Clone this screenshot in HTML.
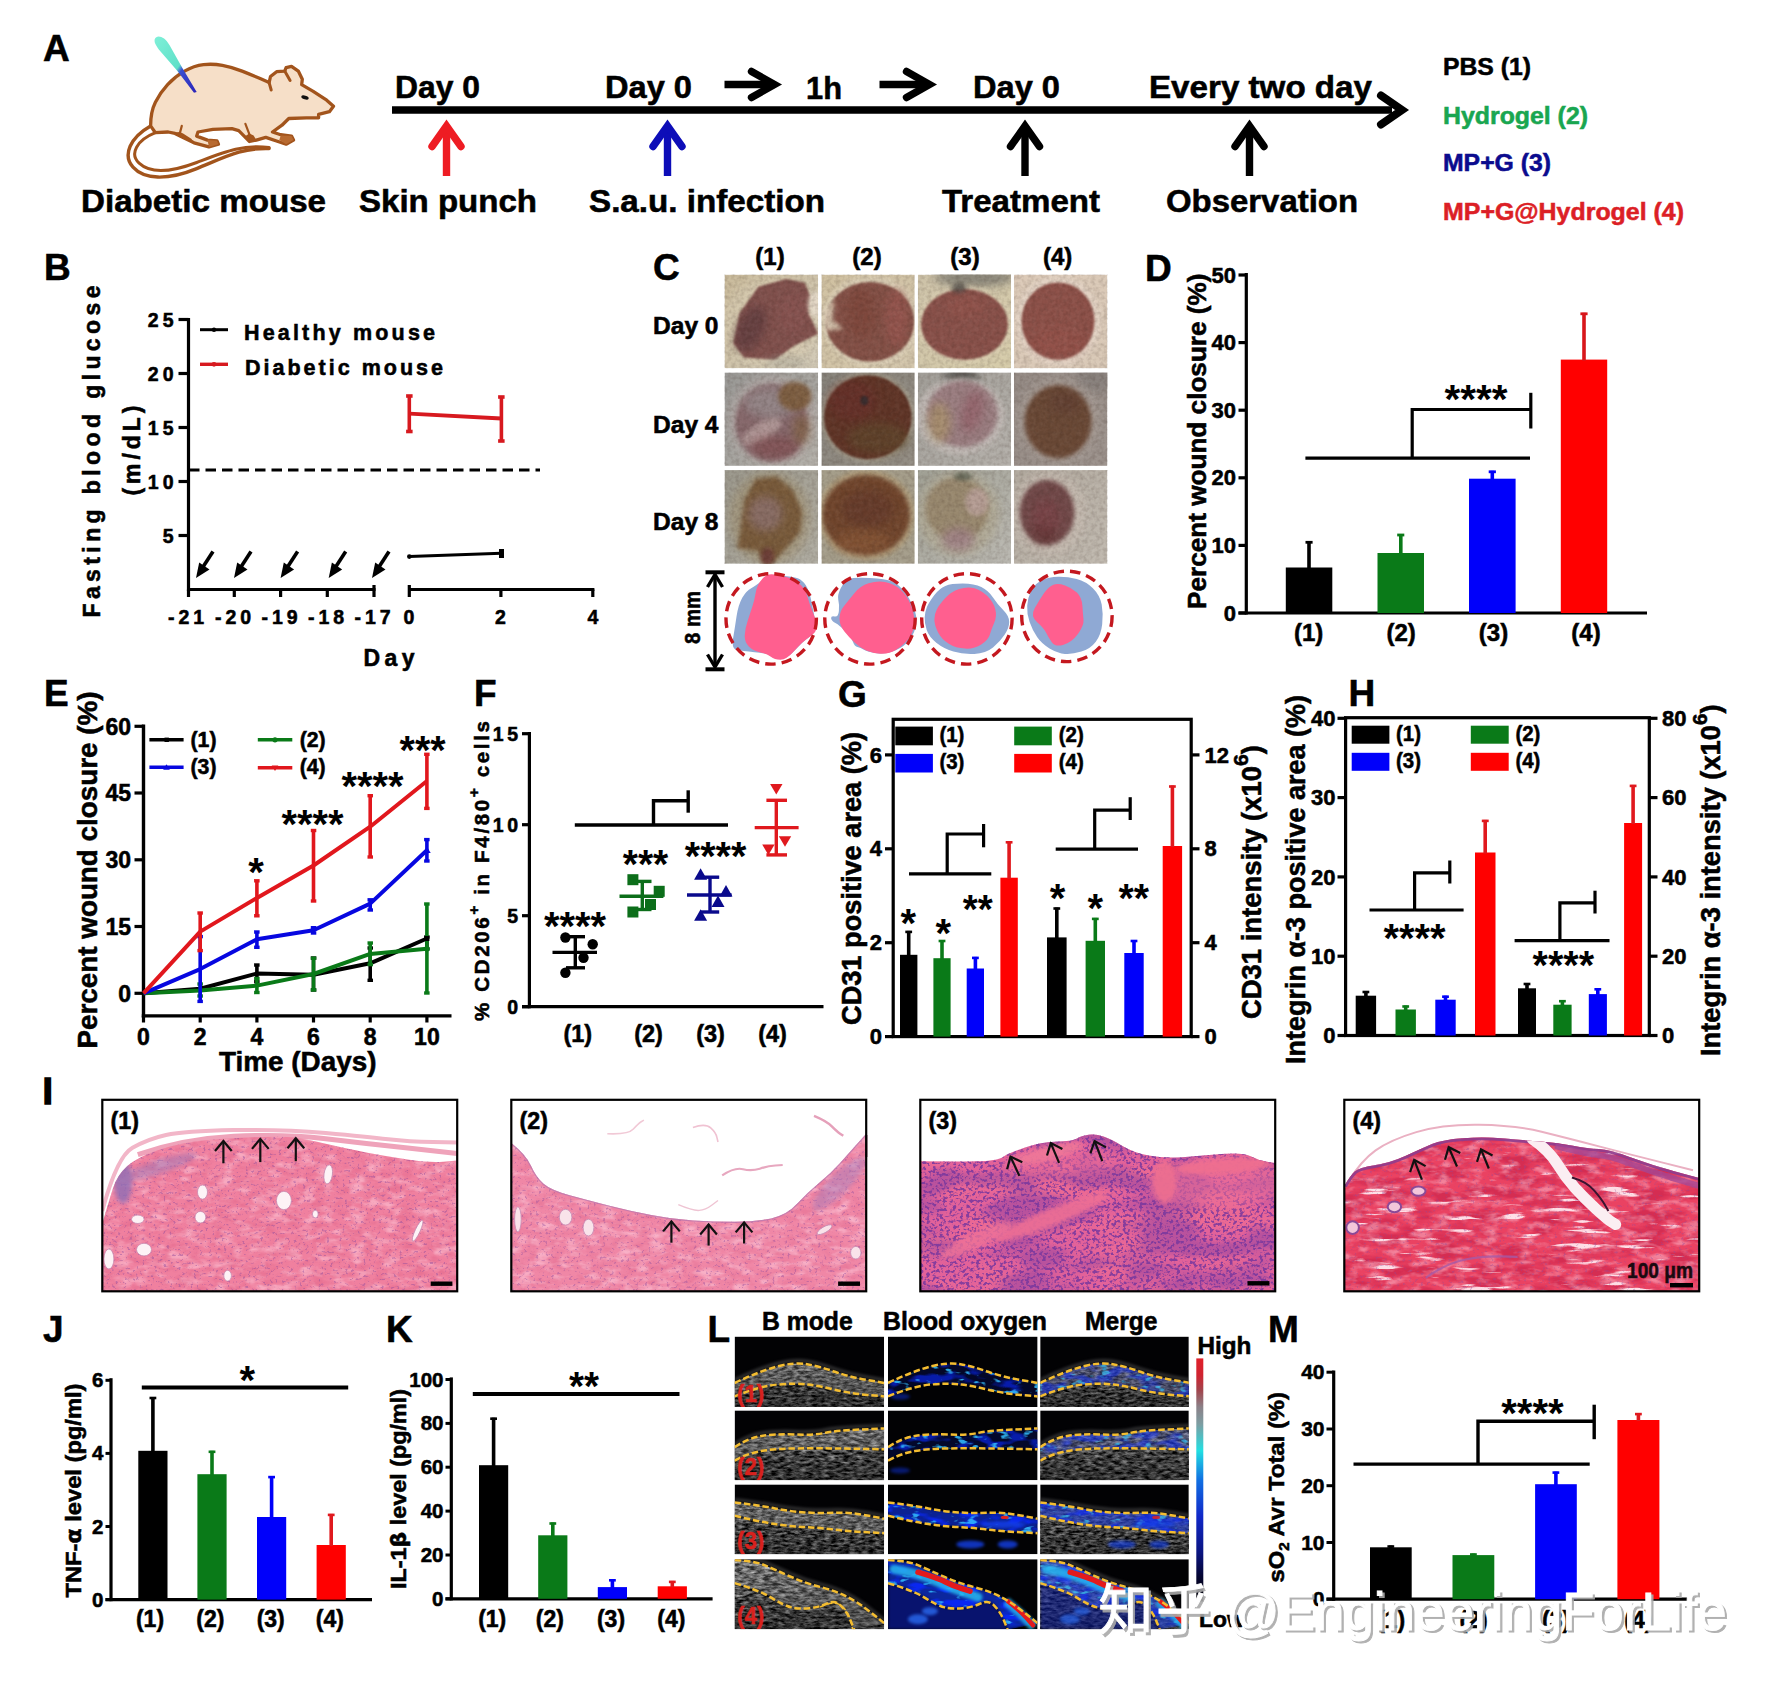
<!DOCTYPE html>
<html><head><meta charset="utf-8"><title>Figure</title>
<style>html,body{margin:0;padding:0;background:#fff}svg{display:block}svg{font-family:"Liberation Sans","Noto Sans CJK SC",sans-serif;font-weight:bold}</style></head>
<body>
<svg width="1772" height="1693" viewBox="0 0 1772 1693">
<!-- Panel A -->
<text x="43.0" y="61.0" font-size="37" stroke="#000" stroke-width="0.55">A</text>
<defs><linearGradient id="syr" x1="0" y1="0" x2="1" y2="1"><stop offset="0" stop-color="#7ff0d8"/><stop offset="0.55" stop-color="#5fe0c8"/><stop offset="0.62" stop-color="#3a4fd0"/><stop offset="1" stop-color="#2a22b8"/></linearGradient></defs>
<path d="M150.6 125.9 C130.3 137.4 122.2 155.0 133.0 167.2 S166.9 180.8 196.7 168.6 S242.7 147.6 269.1 148.5" fill="none" stroke="#a2541c" stroke-width="3.4" stroke-linecap="round"/>
<path d="M155.4 132.7 C137.1 140.1 129.0 153.7 139.1 163.2 S168.2 173.3 196.7 162.5 S242.7 144.2 269.1 147.6" fill="none" stroke="#a2541c" stroke-width="3" stroke-linecap="round"/>
<path d="M150.6 125.9 Q150.6 111.7 155.4 102.2 Q160.1 92.7 167.6 84.6 Q175.0 76.5 184.5 71.1 Q194.0 65.6 203.5 64.6 Q212.9 63.6 222.4 65.3 Q231.9 67.0 242.1 71.1 Q252.2 75.1 260.7 78.8 L269.1 82.6 270.5 76.5 276.6 71.7 284.7 71.1 286.1 67.7 291.5 66.3 298.3 71.1 302.3 79.2 301.7 84.6 313.2 91.4 326.7 100.2 333.5 106.3 329.4 111.7 318.6 114.4 318.6 117.8 306.4 117.8 288.8 118.5 282.0 125.2 272.5 132.0 280.7 134.7 291.5 136.1 293.5 140.1 286.1 144.2 278.0 141.5 265.8 137.4 256.3 140.1 249.5 141.5 245.4 137.4 238.7 130.6 231.9 128.6 212.9 129.3 198.0 132.0 196.7 136.1 207.5 140.1 217.0 140.8 218.4 144.2 208.9 146.9 194.0 142.8 183.1 137.4 175.0 133.4 168.2 132.0 155.4 132.7 Z" fill="#f6dfc8" stroke="#a2541c" stroke-width="3.3" stroke-linejoin="round"/>
<path d="M284.7 71.1 L290.1 80.5" fill="none" stroke="#a2541c" stroke-width="3" stroke-linecap="round"/>
<path d="M269.1 82.6 L271.2 90.0" fill="none" stroke="#a2541c" stroke-width="3" stroke-linecap="round"/>
<path d="M181.8 125.9 L179.8 133.4 175.0 133.4" fill="none" stroke="#a2541c" stroke-width="2.2" stroke-linecap="round" stroke-linejoin="round"/>
<path d="M245.4 123.9 L249.5 134.7 245.4 137.4" fill="none" stroke="#a2541c" stroke-width="2.2" stroke-linecap="round" stroke-linejoin="round"/>
<path d="M175.0 133.4 L183.1 137.4 194.0 142.8 191.3 138.8 183.1 133.4 179.8 132.0Z" fill="#a2541c" />
<path d="M245.4 137.4 L249.5 141.5 256.3 140.1 253.6 135.4 249.5 133.4Z" fill="#a2541c" />
<path d="M207.5 140.1 L217.0 140.8 218.4 144.2 208.9 146.9Z" fill="#b86a30" />
<path d="M280.7 135.4 L291.5 136.1 293.5 140.1 286.1 144.2 279.3 140.1Z" fill="#b86a30" />
<ellipse cx="305.0" cy="97.5" rx="3.8" ry="1.9" fill="#111" transform="rotate(14 305.0 97.5)"/>
<path d="M154.7 39.2 C156.7 34.5 164.2 35.8 169.6 45.3 L182.5 68.3 196.7 92.0 194.0 92.7 177.0 70.4 L158.8 49.4 C156.1 45.3 154.0 42.6 154.7 39.2Z" fill="url(#syr)" />
<line x1="392.0" y1="110.0" x2="1392.0" y2="110.0" stroke="#000" stroke-width="7.4" />
<path d="M1381 95.5 L1402 110 L1381 124.5" fill="none" stroke="#000" stroke-width="8" stroke-linejoin="miter" stroke-linecap="round"/>
<line x1="724.5" y1="84.5" x2="770.5" y2="84.5" stroke="#000" stroke-width="7.4" />
<path d="M751.5 71.5 L774.5 84.5 L751.5 97.5" fill="none" stroke="#000" stroke-width="7.4" stroke-linecap="round" stroke-linejoin="miter"/>
<line x1="879.5" y1="84.5" x2="925.5" y2="84.5" stroke="#000" stroke-width="7.4" />
<path d="M906.5 71.5 L929.5 84.5 L906.5 97.5" fill="none" stroke="#000" stroke-width="7.4" stroke-linecap="round" stroke-linejoin="miter"/>
<line x1="446.5" y1="127.5" x2="446.5" y2="176.0" stroke="#ee1c23" stroke-width="7.4" />
<path d="M432.0 146.5 L446.5 126.0 L461.0 146.5" fill="none" stroke="#ee1c23" stroke-width="7.4" stroke-linecap="round" stroke-linejoin="miter"/>
<line x1="667.5" y1="127.5" x2="667.5" y2="176.0" stroke="#0d0db8" stroke-width="7.4" />
<path d="M653.0 146.5 L667.5 126.0 L682.0 146.5" fill="none" stroke="#0d0db8" stroke-width="7.4" stroke-linecap="round" stroke-linejoin="miter"/>
<line x1="1025.0" y1="127.5" x2="1025.0" y2="176.0" stroke="#000" stroke-width="7.4" />
<path d="M1010.5 146.5 L1025 126.0 L1039.5 146.5" fill="none" stroke="#000" stroke-width="7.4" stroke-linecap="round" stroke-linejoin="miter"/>
<line x1="1249.5" y1="127.5" x2="1249.5" y2="176.0" stroke="#000" stroke-width="7.4" />
<path d="M1235.0 146.5 L1249.5 126.0 L1264.0 146.5" fill="none" stroke="#000" stroke-width="7.4" stroke-linecap="round" stroke-linejoin="miter"/>
<text x="395.0" y="97.6" font-size="31" textLength="85.0" lengthAdjust="spacingAndGlyphs" stroke="#000" stroke-width="0.55">Day 0</text>
<text x="605.0" y="97.6" font-size="31" textLength="87.0" lengthAdjust="spacingAndGlyphs" stroke="#000" stroke-width="0.55">Day 0</text>
<text x="806.0" y="99.0" font-size="31" textLength="36.0" lengthAdjust="spacingAndGlyphs" stroke="#000" stroke-width="0.55">1h</text>
<text x="973.0" y="97.6" font-size="31" textLength="87.0" lengthAdjust="spacingAndGlyphs" stroke="#000" stroke-width="0.55">Day 0</text>
<text x="1149.0" y="97.6" font-size="31" textLength="223.0" lengthAdjust="spacingAndGlyphs" stroke="#000" stroke-width="0.55">Every two day</text>
<text x="81.0" y="212.0" font-size="31" textLength="245.0" lengthAdjust="spacingAndGlyphs" stroke="#000" stroke-width="0.55">Diabetic mouse</text>
<text x="359.0" y="212.0" font-size="31" textLength="178.0" lengthAdjust="spacingAndGlyphs" stroke="#000" stroke-width="0.55">Skin punch</text>
<text x="589.0" y="212.0" font-size="31" textLength="236.0" lengthAdjust="spacingAndGlyphs" stroke="#000" stroke-width="0.55">S.a.u. infection</text>
<text x="942.0" y="212.0" font-size="31" textLength="158.0" lengthAdjust="spacingAndGlyphs" stroke="#000" stroke-width="0.55">Treatment</text>
<text x="1166.0" y="212.0" font-size="31" textLength="192.0" lengthAdjust="spacingAndGlyphs" stroke="#000" stroke-width="0.55">Observation</text>
<text x="1443.0" y="75.0" font-size="24" textLength="88.0" lengthAdjust="spacingAndGlyphs" stroke="#000" stroke-width="0.55">PBS (1)</text>
<text x="1443.0" y="124.0" font-size="24" fill="#19a650" textLength="145.0" lengthAdjust="spacingAndGlyphs" stroke="#19a650" stroke-width="0.55">Hydrogel (2)</text>
<text x="1443.0" y="171.0" font-size="24" fill="#0b0b8e" textLength="108.0" lengthAdjust="spacingAndGlyphs" stroke="#0b0b8e" stroke-width="0.55">MP+G (3)</text>
<text x="1443.0" y="220.0" font-size="24" fill="#dc1f26" textLength="241.0" lengthAdjust="spacingAndGlyphs" stroke="#dc1f26" stroke-width="0.55">MP+G@Hydrogel (4)</text>
<!-- Panel B -->
<text x="44.0" y="280.0" font-size="37" stroke="#000" stroke-width="0.55">B</text>
<line x1="188.5" y1="318.0" x2="188.5" y2="591.0" stroke="#000" stroke-width="3.2" />
<line x1="178.5" y1="535.5" x2="188.5" y2="535.5" stroke="#000" stroke-width="3.2" />
<text x="177.5" y="542.5" font-size="19.5" text-anchor="end" letter-spacing="4" stroke="#000" stroke-width="0.55">5</text>
<line x1="178.5" y1="481.5" x2="188.5" y2="481.5" stroke="#000" stroke-width="3.2" />
<text x="177.5" y="488.5" font-size="19.5" text-anchor="end" letter-spacing="4" stroke="#000" stroke-width="0.55">10</text>
<line x1="178.5" y1="427.5" x2="188.5" y2="427.5" stroke="#000" stroke-width="3.2" />
<text x="177.5" y="434.5" font-size="19.5" text-anchor="end" letter-spacing="4" stroke="#000" stroke-width="0.55">15</text>
<line x1="178.5" y1="373.5" x2="188.5" y2="373.5" stroke="#000" stroke-width="3.2" />
<text x="177.5" y="380.5" font-size="19.5" text-anchor="end" letter-spacing="4" stroke="#000" stroke-width="0.55">20</text>
<line x1="178.5" y1="319.5" x2="188.5" y2="319.5" stroke="#000" stroke-width="3.2" />
<text x="177.5" y="326.5" font-size="19.5" text-anchor="end" letter-spacing="4" stroke="#000" stroke-width="0.55">25</text>
<line x1="187.0" y1="589.5" x2="375.5" y2="589.5" stroke="#000" stroke-width="3.2" />
<line x1="188.5" y1="589.5" x2="188.5" y2="597.0" stroke="#000" stroke-width="3.2" />
<line x1="234.3" y1="589.5" x2="234.3" y2="597.0" stroke="#000" stroke-width="3.2" />
<line x1="280.6" y1="589.5" x2="280.6" y2="597.0" stroke="#000" stroke-width="3.2" />
<line x1="327.3" y1="589.5" x2="327.3" y2="597.0" stroke="#000" stroke-width="3.2" />
<line x1="374.0" y1="585.0" x2="374.0" y2="597.0" stroke="#000" stroke-width="3.2" />
<line x1="409.3" y1="589.5" x2="594.4" y2="589.5" stroke="#000" stroke-width="3.2" />
<line x1="409.3" y1="585.0" x2="409.3" y2="597.0" stroke="#000" stroke-width="3.2" />
<line x1="500.9" y1="589.5" x2="500.9" y2="597.0" stroke="#000" stroke-width="3.2" />
<line x1="592.8" y1="589.5" x2="592.8" y2="597.0" stroke="#000" stroke-width="3.2" />
<text x="188.0" y="623.5" font-size="19.5" text-anchor="middle" letter-spacing="4" stroke="#000" stroke-width="0.55">-21</text>
<text x="235.0" y="623.5" font-size="19.5" text-anchor="middle" letter-spacing="4" stroke="#000" stroke-width="0.55">-20</text>
<text x="281.5" y="623.5" font-size="19.5" text-anchor="middle" letter-spacing="4" stroke="#000" stroke-width="0.55">-19</text>
<text x="328.0" y="623.5" font-size="19.5" text-anchor="middle" letter-spacing="4" stroke="#000" stroke-width="0.55">-18</text>
<text x="374.5" y="623.5" font-size="19.5" text-anchor="middle" letter-spacing="4" stroke="#000" stroke-width="0.55">-17</text>
<text x="409.0" y="623.5" font-size="19.5" text-anchor="middle" stroke="#000" stroke-width="0.55">0</text>
<text x="500.5" y="623.5" font-size="19.5" text-anchor="middle" stroke="#000" stroke-width="0.55">2</text>
<text x="593.0" y="623.5" font-size="19.5" text-anchor="middle" stroke="#000" stroke-width="0.55">4</text>
<text x="363.5" y="666.0" font-size="23" textLength="51.0" lengthAdjust="spacing" stroke="#000" stroke-width="0.55">Day</text>
<text x="100.0" y="617.5" font-size="23" textLength="332.0" lengthAdjust="spacing" transform="rotate(-90 100.0 617.5)" stroke="#000" stroke-width="0.55">Fasting blood glucose</text>
<text x="139.5" y="495.5" font-size="23" textLength="90.0" lengthAdjust="spacing" transform="rotate(-90 139.5 495.5)" stroke="#000" stroke-width="0.55">(m/dL)</text>
<line x1="200.0" y1="329.7" x2="228.0" y2="329.7" stroke="#000" stroke-width="3" />
<circle cx="214.0" cy="329.7" r="2.2" fill="#000" />
<text x="244.0" y="340.0" font-size="21.5" textLength="191.0" lengthAdjust="spacing" stroke="#000" stroke-width="0.55">Healthy mouse</text>
<line x1="200.0" y1="364.3" x2="228.0" y2="364.3" stroke="#d7191f" stroke-width="3.4" />
<circle cx="214.0" cy="364.3" r="2.4" fill="#d7191f" />
<text x="245.0" y="374.5" font-size="21.5" textLength="198.0" lengthAdjust="spacing" stroke="#000" stroke-width="0.55">Diabetic mouse</text>
<line x1="409.3" y1="413.7" x2="501.4" y2="418.5" stroke="#d7191f" stroke-width="3.8" />
<line x1="409.3" y1="396.0" x2="409.3" y2="431.5" stroke="#d7191f" stroke-width="3.6" />
<line x1="406.1" y1="396.0" x2="412.6" y2="396.0" stroke="#d7191f" stroke-width="3.6" />
<line x1="406.1" y1="431.5" x2="412.6" y2="431.5" stroke="#d7191f" stroke-width="3.6" />
<line x1="501.4" y1="397.0" x2="501.4" y2="441.0" stroke="#d7191f" stroke-width="3.6" />
<line x1="498.1" y1="397.0" x2="504.6" y2="397.0" stroke="#d7191f" stroke-width="3.6" />
<line x1="498.1" y1="441.0" x2="504.6" y2="441.0" stroke="#d7191f" stroke-width="3.6" />
<line x1="189.0" y1="470.0" x2="540.0" y2="470.0" stroke="#000" stroke-width="3" stroke-dasharray="10.5 6"/>
<line x1="409.3" y1="556.6" x2="501.4" y2="553.3" stroke="#000" stroke-width="3" />
<circle cx="409.3" cy="556.6" r="2.3" fill="#000" />
<rect x="499.0" y="549.0" width="5.0" height="9.0" fill="#000" />
<line x1="201.0" y1="570.0" x2="213.0" y2="551.5" stroke="#000" stroke-width="3.6" />
<path d="M196.0 578.0 L199.2 562.5 L209.5 569.5 Z" fill="#000" />
<line x1="239.0" y1="570.0" x2="251.0" y2="551.5" stroke="#000" stroke-width="3.6" />
<path d="M234.0 578.0 L237.2 562.5 L247.5 569.5 Z" fill="#000" />
<line x1="285.6" y1="570.0" x2="297.6" y2="551.5" stroke="#000" stroke-width="3.6" />
<path d="M280.6 578.0 L283.8 562.5 L294.1 569.5 Z" fill="#000" />
<line x1="333.7" y1="570.0" x2="345.7" y2="551.5" stroke="#000" stroke-width="3.6" />
<path d="M328.7 578.0 L331.9 562.5 L342.2 569.5 Z" fill="#000" />
<line x1="377.0" y1="570.0" x2="389.0" y2="551.5" stroke="#000" stroke-width="3.6" />
<path d="M372.0 578.0 L375.2 562.5 L385.5 569.5 Z" fill="#000" />
<!-- Panel C -->
<text x="653.0" y="280.0" font-size="37" stroke="#000" stroke-width="0.55">C</text>
<text x="770.0" y="264.6" font-size="24" text-anchor="middle" stroke="#000" stroke-width="0.55">(1)</text>
<text x="867.0" y="264.6" font-size="24" text-anchor="middle" stroke="#000" stroke-width="0.55">(2)</text>
<text x="965.0" y="264.6" font-size="24" text-anchor="middle" stroke="#000" stroke-width="0.55">(3)</text>
<text x="1057.6" y="264.6" font-size="24" text-anchor="middle" stroke="#000" stroke-width="0.55">(4)</text>
<text x="653.0" y="333.5" font-size="24" textLength="65.5" lengthAdjust="spacingAndGlyphs" stroke="#000" stroke-width="0.55">Day 0</text>
<text x="653.0" y="433.0" font-size="24" textLength="65.5" lengthAdjust="spacingAndGlyphs" stroke="#000" stroke-width="0.55">Day 4</text>
<text x="653.0" y="530.0" font-size="24" textLength="65.5" lengthAdjust="spacingAndGlyphs" stroke="#000" stroke-width="0.55">Day 8</text>
<defs><filter id="b1" color-interpolation-filters="sRGB" x="-20%" y="-20%" width="140%" height="140%"><feGaussianBlur stdDeviation="1.2"/></filter><filter id="b2" color-interpolation-filters="sRGB" x="-20%" y="-20%" width="140%" height="140%"><feGaussianBlur stdDeviation="2.2"/></filter><filter id="b4" color-interpolation-filters="sRGB" x="-30%" y="-30%" width="160%" height="160%"><feGaussianBlur stdDeviation="4.5"/></filter><filter id="nzC" color-interpolation-filters="sRGB" x="0" y="0" width="100%" height="100%"><feTurbulence type="fractalNoise" baseFrequency="0.22" numOctaves="3" seed="4" result="t"/><feColorMatrix type="matrix" values="0 0 0 0 1  0 0 0 0 1  0 0 0 0 1  1.6 0 0 0 -0.55"/></filter><filter id="nzCd" color-interpolation-filters="sRGB" x="0" y="0" width="100%" height="100%"><feTurbulence type="fractalNoise" baseFrequency="0.25" numOctaves="3" seed="9" result="t"/><feColorMatrix type="matrix" values="0 0 0 0 0.15  0 0 0 0 0.08  0 0 0 0 0.05  0 1.6 0 0 -0.6"/></filter></defs>
<defs><clipPath id="ct0"><rect x="724.5" y="274.6" width="93.6" height="93.8"/></clipPath><linearGradient id="cg0" x1="0" y1="0" x2="1" y2="1"><stop offset="0" stop-color="#c9ba9a"/><stop offset="1" stop-color="#d3cbb8"/></linearGradient></defs>
<g clip-path="url(#ct0)">
<rect x="724.5" y="274.6" width="93.6" height="93.8" fill="url(#cg0)" />
<ellipse cx="771.6" cy="322.2" rx="47.6" ry="44.2" fill="#d6cab0" opacity="0.7" filter="url(#b4)" transform="rotate(0 771.6 322.2)"/>
<path d="M733.3 343.2 L739.5 313.3 L758.3 286.8 L786.0 279.0 L804.8 282.8 L810.8 297.8 L808.6 313.3 L818.1 333.7 L793.7 346.1 L774.9 359.8 L744.0 357.6Z" fill="#80504c" opacity="1" filter="url(#b1)"/>
<ellipse cx="750.6" cy="328.8" rx="13.3" ry="24.3" fill="#5c3a3d" opacity="0.7" filter="url(#b4)" transform="rotate(25 750.6 328.8)"/>
<ellipse cx="792.6" cy="313.3" rx="13.3" ry="19.9" fill="#8a5452" opacity="0.6" filter="url(#b4)" transform="rotate(0 792.6 313.3)"/>
<ellipse cx="815.2" cy="304.5" rx="7.3" ry="12.8" fill="#e4d9c8" opacity="0.95" filter="url(#b2)" transform="rotate(0 815.2 304.5)"/>
<ellipse cx="786.0" cy="362.0" rx="19.9" ry="5.5" fill="#a09e92" opacity="0.5" filter="url(#b4)" transform="rotate(0 786.0 362.0)"/>
</g>
<defs><clipPath id="ct1"><rect x="821.3" y="274.6" width="93.6" height="93.8"/></clipPath><linearGradient id="cg1" x1="0" y1="0" x2="1" y2="1"><stop offset="0" stop-color="#cfc0a0"/><stop offset="1" stop-color="#d3c6ac"/></linearGradient></defs>
<g clip-path="url(#ct1)">
<rect x="821.3" y="274.6" width="93.6" height="93.8" fill="url(#cg1)" />
<ellipse cx="871.1" cy="321.1" rx="49.1" ry="45.4" fill="#dcd0b8" opacity="0.8" filter="url(#b2)" transform="rotate(0 871.1 321.1)"/>
<ellipse cx="870.0" cy="321.7" rx="44.2" ry="39.8" fill="#835046" opacity="1" filter="url(#b1)" transform="rotate(0 870.0 321.7)"/>
<path d="M822.4 308.9 L834.6 300.0 L832.4 320.0 L843.4 328.8 L825.7 331.0Z" fill="#d8c9b2" opacity="0.9" filter="url(#b2)"/>
<ellipse cx="896.5" cy="317.7" rx="11.1" ry="28.8" fill="#9a5650" opacity="0.7" filter="url(#b4)" transform="rotate(0 896.5 317.7)"/>
<ellipse cx="861.1" cy="313.3" rx="15.5" ry="24.3" fill="#7b4236" opacity="0.6" filter="url(#b4)" transform="rotate(0 861.1 313.3)"/>
</g>
<defs><clipPath id="ct2"><rect x="917.6" y="274.6" width="93.6" height="93.8"/></clipPath><linearGradient id="cg2" x1="0" y1="0" x2="1" y2="1"><stop offset="0" stop-color="#cdc2a8"/><stop offset="1" stop-color="#d6ccaa"/></linearGradient></defs>
<g clip-path="url(#ct2)">
<rect x="917.6" y="274.6" width="93.6" height="93.8" fill="url(#cg2)" />
<ellipse cx="974.5" cy="277.9" rx="39.8" ry="8.8" fill="#7d7a70" opacity="0.85" filter="url(#b4)" transform="rotate(0 974.5 277.9)"/>
<ellipse cx="964.5" cy="324.4" rx="47.6" ry="38.7" fill="#dccfb4" opacity="0.6" filter="url(#b2)" transform="rotate(0 964.5 324.4)"/>
<ellipse cx="964.5" cy="324.4" rx="43.4" ry="35.4" fill="#885049" opacity="1" filter="url(#b1)" transform="rotate(0 964.5 324.4)"/>
<ellipse cx="959.0" cy="287.9" rx="7.7" ry="5.5" fill="#403c3a" opacity="0.7" filter="url(#b2)" transform="rotate(0 959.0 287.9)"/>
<ellipse cx="965.6" cy="306.7" rx="17.7" ry="11.1" fill="#96544c" opacity="0.5" filter="url(#b4)" transform="rotate(0 965.6 306.7)"/>
</g>
<defs><clipPath id="ct3"><rect x="1013.8" y="274.6" width="93.6" height="93.8"/></clipPath><linearGradient id="cg3" x1="0" y1="0" x2="1" y2="1"><stop offset="0" stop-color="#dccab8"/><stop offset="1" stop-color="#d8c8b6"/></linearGradient></defs>
<g clip-path="url(#ct3)">
<rect x="1013.8" y="274.6" width="93.6" height="93.8" fill="url(#cg3)" />
<ellipse cx="1058.0" cy="321.1" rx="43.1" ry="45.4" fill="#e4d4c6" opacity="0.8" filter="url(#b2)" transform="rotate(0 1058.0 321.1)"/>
<ellipse cx="1058.0" cy="321.1" rx="36.5" ry="38.7" fill="#8c5048" opacity="1" filter="url(#b1)" transform="rotate(0 1058.0 321.1)"/>
<ellipse cx="1058.0" cy="342.1" rx="26.5" ry="13.3" fill="#98524a" opacity="0.5" filter="url(#b4)" transform="rotate(0 1058.0 342.1)"/>
</g>
<defs><clipPath id="ct4"><rect x="724.5" y="372.3" width="93.6" height="93.8"/></clipPath><linearGradient id="cg4" x1="0" y1="0" x2="1" y2="1"><stop offset="0" stop-color="#979693"/><stop offset="1" stop-color="#b4b1aa"/></linearGradient></defs>
<g clip-path="url(#ct4)">
<rect x="724.5" y="372.3" width="93.6" height="93.8" fill="url(#cg4)" />
<ellipse cx="772.7" cy="420.5" rx="44.2" ry="44.2" fill="#b4a8a6" opacity="0.7" filter="url(#b4)" transform="rotate(0 772.7 420.5)"/>
<ellipse cx="771.6" cy="422.7" rx="36.5" ry="38.7" fill="#85676a" opacity="1" filter="url(#b2)" transform="rotate(0 771.6 422.7)"/>
<ellipse cx="770.5" cy="402.8" rx="26.5" ry="15.5" fill="#968a8c" opacity="0.8" filter="url(#b4)" transform="rotate(0 770.5 402.8)"/>
<ellipse cx="794.9" cy="396.2" rx="16.6" ry="14.4" fill="#7c5c3e" opacity="0.95" filter="url(#b2)" transform="rotate(0 794.9 396.2)"/>
<ellipse cx="761.7" cy="431.6" rx="22.1" ry="8.8" fill="#dcc8c4" opacity="0.45" filter="url(#b2)" transform="rotate(-30 761.7 431.6)"/>
<ellipse cx="774.9" cy="447.1" rx="24.3" ry="11.1" fill="#80474a" opacity="0.55" filter="url(#b4)" transform="rotate(0 774.9 447.1)"/>
<ellipse cx="801.5" cy="429.4" rx="8.8" ry="15.5" fill="#80603c" opacity="0.6" filter="url(#b4)" transform="rotate(0 801.5 429.4)"/>
</g>
<defs><clipPath id="ct5"><rect x="821.3" y="372.3" width="93.6" height="93.8"/></clipPath><linearGradient id="cg5" x1="0" y1="0" x2="1" y2="1"><stop offset="0" stop-color="#86827a"/><stop offset="1" stop-color="#938d83"/></linearGradient></defs>
<g clip-path="url(#ct5)">
<rect x="821.3" y="372.3" width="93.6" height="93.8" fill="url(#cg5)" />
<ellipse cx="867.8" cy="417.2" rx="47.6" ry="45.4" fill="#a89e8a" opacity="0.6" filter="url(#b2)" transform="rotate(0 867.8 417.2)"/>
<ellipse cx="867.8" cy="417.2" rx="43.8" ry="42.0" fill="#5f3426" opacity="1" filter="url(#b1)" transform="rotate(0 867.8 417.2)"/>
<ellipse cx="852.3" cy="400.6" rx="24.3" ry="19.9" fill="#6a2c2a" opacity="0.5" filter="url(#b4)" transform="rotate(0 852.3 400.6)"/>
<ellipse cx="878.8" cy="438.2" rx="31.0" ry="15.5" fill="#5e4a2c" opacity="0.6" filter="url(#b4)" transform="rotate(0 878.8 438.2)"/>
<ellipse cx="864.4" cy="400.6" rx="4.0" ry="4.9" fill="#2e2a2e" opacity="0.8" filter="url(#b1)" transform="rotate(0 864.4 400.6)"/>
</g>
<defs><clipPath id="ct6"><rect x="917.6" y="372.3" width="93.6" height="93.8"/></clipPath><linearGradient id="cg6" x1="0" y1="0" x2="1" y2="1"><stop offset="0" stop-color="#a09d97"/><stop offset="1" stop-color="#b4b0aa"/></linearGradient></defs>
<g clip-path="url(#ct6)">
<rect x="917.6" y="372.3" width="93.6" height="93.8" fill="url(#cg6)" />
<ellipse cx="961.2" cy="377.4" rx="17.7" ry="7.1" fill="#45433f" opacity="0.9" filter="url(#b4)" transform="rotate(0 961.2 377.4)"/>
<ellipse cx="960.1" cy="416.1" rx="44.2" ry="38.7" fill="#c4bcb8" opacity="0.8" filter="url(#b2)" transform="rotate(0 960.1 416.1)"/>
<ellipse cx="962.3" cy="413.9" rx="35.4" ry="33.2" fill="#9a7d80" opacity="1" filter="url(#b2)" transform="rotate(0 962.3 413.9)"/>
<ellipse cx="972.2" cy="411.7" rx="10.0" ry="21.0" fill="#8e505c" opacity="0.5" filter="url(#b4)" transform="rotate(15 972.2 411.7)"/>
<ellipse cx="939.1" cy="422.7" rx="11.1" ry="19.9" fill="#a8906a" opacity="0.8" filter="url(#b4)" transform="rotate(0 939.1 422.7)"/>
</g>
<defs><clipPath id="ct7"><rect x="1013.8" y="372.3" width="93.6" height="93.8"/></clipPath><linearGradient id="cg7" x1="0" y1="0" x2="1" y2="1"><stop offset="0" stop-color="#948a84"/><stop offset="1" stop-color="#9c928c"/></linearGradient></defs>
<g clip-path="url(#ct7)">
<rect x="1013.8" y="372.3" width="93.6" height="93.8" fill="url(#cg7)" />
<ellipse cx="1095.7" cy="378.5" rx="19.9" ry="13.3" fill="#857e7a" opacity="0.8" filter="url(#b4)" transform="rotate(0 1095.7 378.5)"/>
<ellipse cx="1058.0" cy="420.5" rx="40.9" ry="43.1" fill="#b0a49c" opacity="0.5" filter="url(#b4)" transform="rotate(0 1058.0 420.5)"/>
<ellipse cx="1058.0" cy="421.6" rx="33.6" ry="36.7" fill="#694835" opacity="1" filter="url(#b2)" transform="rotate(0 1058.0 421.6)"/>
<ellipse cx="1064.7" cy="402.8" rx="15.5" ry="11.1" fill="#5e3c30" opacity="0.6" filter="url(#b4)" transform="rotate(0 1064.7 402.8)"/>
</g>
<defs><clipPath id="ct8"><rect x="724.5" y="470.0" width="93.6" height="93.8"/></clipPath><linearGradient id="cg8" x1="0" y1="0" x2="1" y2="1"><stop offset="0" stop-color="#9a978b"/><stop offset="1" stop-color="#b0ada2"/></linearGradient></defs>
<g clip-path="url(#ct8)">
<rect x="724.5" y="470.0" width="93.6" height="93.8" fill="url(#cg8)" />
<ellipse cx="769.8" cy="518.4" rx="40.7" ry="46.5" fill="#a09070" opacity="0.6" filter="url(#b4)" transform="rotate(0 769.8 518.4)"/>
<path d="M739.6 534.6 L744.3 499.8 L755.9 478.8 L776.8 476.5 L793.1 490.5 L802.4 511.4 L800.1 532.3 L786.1 548.6 L772.2 563.7 L762.9 563.7 L758.2 550.9 L737.3 548.6Z" fill="#785a3a" opacity="1" filter="url(#b2)"/>
<ellipse cx="765.2" cy="513.7" rx="17.4" ry="17.4" fill="#8a6e68" opacity="0.9" filter="url(#b4)" transform="rotate(0 765.2 513.7)"/>
<ellipse cx="767.5" cy="556.7" rx="6.5" ry="9.3" fill="#6a3a36" opacity="0.9" filter="url(#b2)" transform="rotate(0 767.5 556.7)"/>
</g>
<defs><clipPath id="ct9"><rect x="821.3" y="470.0" width="93.6" height="93.8"/></clipPath><linearGradient id="cg9" x1="0" y1="0" x2="1" y2="1"><stop offset="0" stop-color="#a39c88"/><stop offset="1" stop-color="#a59e8b"/></linearGradient></defs>
<g clip-path="url(#ct9)">
<rect x="821.3" y="470.0" width="93.6" height="93.8" fill="url(#cg9)" />
<ellipse cx="866.2" cy="514.9" rx="48.8" ry="45.3" fill="#b39c76" opacity="0.7" filter="url(#b2)" transform="rotate(0 866.2 514.9)"/>
<ellipse cx="866.2" cy="514.9" rx="43.7" ry="40.0" fill="#70452c" opacity="1" filter="url(#b2)" transform="rotate(0 866.2 514.9)"/>
<ellipse cx="867.3" cy="509.1" rx="25.6" ry="18.6" fill="#62382a" opacity="0.7" filter="url(#b4)" transform="rotate(0 867.3 509.1)"/>
<ellipse cx="862.7" cy="541.6" rx="27.9" ry="11.6" fill="#8c5a38" opacity="0.6" filter="url(#b4)" transform="rotate(0 862.7 541.6)"/>
</g>
<defs><clipPath id="ct10"><rect x="917.6" y="470.0" width="93.6" height="93.8"/></clipPath><linearGradient id="cg10" x1="0" y1="0" x2="1" y2="1"><stop offset="0" stop-color="#9f9f93"/><stop offset="1" stop-color="#bab8b1"/></linearGradient></defs>
<g clip-path="url(#ct10)">
<rect x="917.6" y="470.0" width="93.6" height="93.8" fill="url(#cg10)" />
<ellipse cx="958.3" cy="513.7" rx="40.7" ry="41.9" fill="#b0a892" opacity="0.8" filter="url(#b4)" transform="rotate(0 958.3 513.7)"/>
<ellipse cx="957.1" cy="509.1" rx="31.4" ry="31.4" fill="#98886e" opacity="1" filter="url(#b2)" transform="rotate(0 957.1 509.1)"/>
<ellipse cx="976.9" cy="502.1" rx="11.6" ry="14.0" fill="#b8a098" opacity="0.9" filter="url(#b2)" transform="rotate(0 976.9 502.1)"/>
<ellipse cx="958.3" cy="539.3" rx="16.3" ry="11.6" fill="#9e8084" opacity="0.9" filter="url(#b4)" transform="rotate(0 958.3 539.3)"/>
<ellipse cx="962.9" cy="476.5" rx="9.3" ry="4.2" fill="#4c5244" opacity="0.7" filter="url(#b2)" transform="rotate(0 962.9 476.5)"/>
</g>
<defs><clipPath id="ct11"><rect x="1013.8" y="470.0" width="93.6" height="93.8"/></clipPath><linearGradient id="cg11" x1="0" y1="0" x2="1" y2="1"><stop offset="0" stop-color="#b0a89d"/><stop offset="1" stop-color="#c0b9af"/></linearGradient></defs>
<g clip-path="url(#ct11)">
<rect x="1013.8" y="470.0" width="93.6" height="93.8" fill="url(#cg11)" />
<ellipse cx="1048.2" cy="513.7" rx="37.2" ry="41.9" fill="#c8bcb2" opacity="0.7" filter="url(#b4)" transform="rotate(0 1048.2 513.7)"/>
<ellipse cx="1047.0" cy="512.5" rx="27.4" ry="32.6" fill="#704848" opacity="1" filter="url(#b2)" transform="rotate(0 1047.0 512.5)"/>
<ellipse cx="1045.9" cy="518.4" rx="14.0" ry="18.6" fill="#7c4046" opacity="0.6" filter="url(#b4)" transform="rotate(0 1045.9 518.4)"/>
<ellipse cx="1043.6" cy="534.6" rx="11.6" ry="9.3" fill="#5e3030" opacity="0.6" filter="url(#b4)" transform="rotate(0 1043.6 534.6)"/>
</g>
<rect x="724.5" y="274.6" width="383" height="289.4" filter="url(#nzC)" opacity="0.06"/>
<rect x="724.5" y="274.6" width="383" height="289.4" filter="url(#nzCd)" opacity="0.2"/>
<rect x="818.2" y="274.0" width="3.1" height="291.0" fill="#fff" />
<rect x="914.7" y="274.0" width="3.1" height="291.0" fill="#fff" />
<rect x="1011.1" y="274.0" width="2.8" height="291.0" fill="#fff" />
<rect x="724.0" y="368.5" width="384.0" height="3.9" fill="#fff" />
<rect x="724.0" y="465.8" width="384.0" height="4.3" fill="#fff" />
<path d="M751.2 588.2 Q755.8 585.9 762.8 580.1 Q769.8 574.3 781.4 575.4 Q793.0 576.6 797.7 578.3 Q802.3 580.1 805.8 585.3 Q809.3 590.6 811.6 602.2 Q813.9 613.8 815.7 622.5 Q817.4 631.2 809.9 636.5 Q802.3 641.7 795.3 649.8 Q788.4 658.0 781.4 658.6 Q774.4 659.1 770.9 656.2 Q767.4 653.3 754.6 652.2 Q741.9 651.0 736.6 649.8 Q731.4 648.7 733.1 638.2 Q734.9 627.8 736.6 616.1 Q738.4 604.5 742.4 597.5 Q746.5 590.6 751.2 588.2Z" fill="#8fa9d4" />
<path d="M755.8 592.3 Q757.0 584.7 762.2 578.9 Q767.4 573.1 774.4 574.6 Q781.4 576.1 787.2 577.3 Q793.0 578.5 799.0 583.3 Q805.1 588.2 807.4 596.4 Q809.7 604.5 812.6 611.5 Q815.6 618.5 816.7 624.8 Q817.9 631.2 810.1 636.5 Q802.3 641.7 794.4 650.8 Q786.5 659.8 780.4 659.8 Q774.4 659.8 770.9 656.8 Q767.4 653.8 760.5 652.4 Q753.5 651.0 748.8 646.4 Q744.2 641.7 744.8 634.7 Q745.3 627.8 747.7 620.8 Q750.0 613.8 752.3 606.8 Q754.6 599.9 755.8 592.3Z" fill="#ff5f8f" />
<path d="M838.3 599.9 Q837.2 595.2 840.7 588.2 Q844.2 581.3 848.8 579.2 Q853.5 577.1 869.7 578.0 Q886.0 578.9 891.8 581.3 Q897.6 583.6 903.4 590.6 Q909.3 597.5 913.3 606.8 Q917.4 616.1 916.2 624.3 Q915.1 632.4 909.8 639.4 Q904.6 646.4 895.3 650.4 Q886.0 654.5 876.7 653.3 Q867.4 652.2 863.9 649.8 Q860.4 647.5 857.5 646.9 Q854.6 646.4 852.9 641.7 Q851.1 637.1 845.3 631.2 Q839.5 625.4 835.4 623.1 Q831.4 620.8 831.1 618.2 Q830.9 615.7 834.6 616.5 Q838.3 617.3 838.9 610.9 Q839.5 604.5 838.3 599.9Z" fill="#8fa9d4" />
<path d="M844.2 605.7 Q848.8 599.9 854.6 592.9 Q860.4 585.9 868.6 583.3 Q876.7 580.8 884.8 581.9 Q893.0 583.1 900.0 589.2 Q906.9 595.2 910.6 604.5 Q914.4 613.8 914.4 621.9 Q914.4 630.1 909.5 637.3 Q904.6 644.5 896.5 649.5 Q888.3 654.5 880.2 653.7 Q872.1 652.9 866.2 650.4 Q860.4 648.0 854.6 642.5 Q848.8 637.1 844.2 631.2 Q839.5 625.4 839.5 618.5 Q839.5 611.5 844.2 605.7Z" fill="#ff5f8f" />
<path d="M927.0 606.8 Q929.0 602.2 934.2 595.2 Q939.5 588.2 945.3 585.9 Q951.1 583.6 962.7 583.6 Q974.4 583.6 981.3 587.1 Q988.3 590.6 993.0 597.5 Q997.6 604.5 1003.4 610.3 Q1009.2 616.1 1009.2 621.9 Q1009.2 627.8 1004.6 634.7 Q999.9 641.7 993.0 647.5 Q986.0 653.3 974.4 653.9 Q962.7 654.5 953.4 651.6 Q944.1 648.7 936.6 642.9 Q929.0 637.1 926.7 630.1 Q924.4 623.1 924.7 617.3 Q925.1 611.5 927.0 606.8Z" fill="#8fa9d4" />
<path d="M936.9 609.2 Q939.5 604.5 945.3 598.1 Q951.1 591.7 959.2 589.0 Q967.4 586.4 974.4 588.2 Q981.3 590.1 987.4 596.1 Q993.4 602.2 995.3 609.2 Q997.1 616.1 994.1 623.1 Q991.1 630.1 989.7 635.0 Q988.3 639.8 981.3 644.5 Q974.4 649.1 965.1 648.6 Q955.8 648.0 948.8 643.7 Q941.8 639.4 938.1 632.4 Q934.4 625.4 934.4 619.6 Q934.4 613.8 936.9 609.2Z" fill="#ff5f8f" />
<path d="M1027.2 605.7 Q1027.8 597.5 1031.3 590.6 Q1034.8 583.6 1041.8 580.3 Q1048.8 577.1 1058.1 576.8 Q1067.4 576.6 1076.7 578.9 Q1086.0 581.3 1092.9 588.2 Q1099.9 595.2 1101.7 604.5 Q1103.4 613.8 1102.2 624.3 Q1101.1 634.7 1095.8 641.7 Q1090.6 648.7 1081.3 651.6 Q1072.0 654.5 1065.0 653.9 Q1058.1 653.3 1049.9 648.7 Q1041.8 644.0 1037.1 637.1 Q1032.5 630.1 1029.6 621.9 Q1026.7 613.8 1027.2 605.7Z" fill="#8fa9d4" />
<path d="M1034.8 608.0 Q1039.5 599.9 1044.1 593.1 Q1048.8 586.4 1053.4 584.7 Q1058.1 583.1 1065.0 585.4 Q1072.0 587.8 1076.9 592.6 Q1081.8 597.5 1082.4 605.7 Q1082.9 613.8 1083.5 619.6 Q1084.1 625.4 1078.1 633.8 Q1072.0 642.2 1063.6 644.7 Q1055.3 647.3 1051.8 642.2 Q1048.3 637.1 1046.0 632.4 Q1043.6 627.8 1036.9 621.9 Q1030.2 616.1 1034.8 608.0Z" fill="#ff5f8f" />
<circle cx="771.2" cy="618.9" r="45.2" fill="none" stroke="#c4181f" stroke-width="3.4" stroke-dasharray="10.5 6.1"/>
<circle cx="870" cy="618.9" r="45.2" fill="none" stroke="#c4181f" stroke-width="3.4" stroke-dasharray="10.5 6.1"/>
<circle cx="966.9" cy="618.9" r="45.2" fill="none" stroke="#c4181f" stroke-width="3.4" stroke-dasharray="10.5 6.1"/>
<circle cx="1066.9" cy="616.4" r="45.2" fill="none" stroke="#c4181f" stroke-width="3.4" stroke-dasharray="10.5 6.1"/>
<line x1="715.0" y1="577.0" x2="715.0" y2="664.0" stroke="#000" stroke-width="3.4" />
<line x1="705.5" y1="572.3" x2="724.5" y2="572.3" stroke="#000" stroke-width="4" />
<line x1="705.5" y1="669.3" x2="724.5" y2="669.3" stroke="#000" stroke-width="4" />
<path d="M707.5 587 L715 574.5 L722.5 587" fill="none" stroke="#000" stroke-width="3.4" />
<path d="M707.5 654.5 L715 667 L722.5 654.5" fill="none" stroke="#000" stroke-width="3.4" />
<text x="699.5" y="644.0" font-size="22" textLength="53.0" lengthAdjust="spacingAndGlyphs" transform="rotate(-90 699.5 644.0)" stroke="#000" stroke-width="0.55">8 mm</text>
<!-- Panel D -->
<text x="1145.0" y="281.0" font-size="37" stroke="#000" stroke-width="0.55">D</text>
<line x1="1246.3" y1="273.0" x2="1246.3" y2="614.6" stroke="#000" stroke-width="3.2" />
<line x1="1238.5" y1="613.0" x2="1647.0" y2="613.0" stroke="#000" stroke-width="3.2" />
<line x1="1238.5" y1="613.0" x2="1246.3" y2="613.0" stroke="#000" stroke-width="3.2" />
<text x="1236.0" y="620.5" font-size="22" text-anchor="end" stroke="#000" stroke-width="0.55">0</text>
<line x1="1238.5" y1="545.4" x2="1246.3" y2="545.4" stroke="#000" stroke-width="3.2" />
<text x="1236.0" y="552.9" font-size="22" text-anchor="end" stroke="#000" stroke-width="0.55">10</text>
<line x1="1238.5" y1="477.8" x2="1246.3" y2="477.8" stroke="#000" stroke-width="3.2" />
<text x="1236.0" y="485.3" font-size="22" text-anchor="end" stroke="#000" stroke-width="0.55">20</text>
<line x1="1238.5" y1="410.2" x2="1246.3" y2="410.2" stroke="#000" stroke-width="3.2" />
<text x="1236.0" y="417.7" font-size="22" text-anchor="end" stroke="#000" stroke-width="0.55">30</text>
<line x1="1238.5" y1="342.6" x2="1246.3" y2="342.6" stroke="#000" stroke-width="3.2" />
<text x="1236.0" y="350.1" font-size="22" text-anchor="end" stroke="#000" stroke-width="0.55">40</text>
<line x1="1238.5" y1="275.0" x2="1246.3" y2="275.0" stroke="#000" stroke-width="3.2" />
<text x="1236.0" y="282.5" font-size="22" text-anchor="end" stroke="#000" stroke-width="0.55">50</text>
<rect x="1285.8" y="567.5" width="46.5" height="45.5" fill="#000" />
<line x1="1309.0" y1="541.3" x2="1309.0" y2="568.5" stroke="#000" stroke-width="3.6" />
<line x1="1305.5" y1="542.3" x2="1312.6" y2="542.3" stroke="#000" stroke-width="2.8" />
<rect x="1377.5" y="553.0" width="46.5" height="60.0" fill="#0a7a18" />
<line x1="1400.8" y1="534.0" x2="1400.8" y2="554.0" stroke="#0a7a18" stroke-width="3.6" />
<line x1="1397.2" y1="535.0" x2="1404.3" y2="535.0" stroke="#0a7a18" stroke-width="2.8" />
<rect x="1469.0" y="478.7" width="46.6" height="134.3" fill="#0000fa" />
<line x1="1492.3" y1="470.8" x2="1492.3" y2="479.7" stroke="#0000fa" stroke-width="3.6" />
<line x1="1488.7" y1="471.8" x2="1495.9" y2="471.8" stroke="#0000fa" stroke-width="2.8" />
<rect x="1560.8" y="359.6" width="46.4" height="253.4" fill="#ff0000" />
<line x1="1584.0" y1="312.8" x2="1584.0" y2="360.6" stroke="#d8161b" stroke-width="3.6" />
<line x1="1580.4" y1="313.8" x2="1587.6" y2="313.8" stroke="#d8161b" stroke-width="2.8" />
<text x="1308.6" y="640.5" font-size="24" text-anchor="middle" stroke="#000" stroke-width="0.55">(1)</text>
<text x="1401.2" y="640.5" font-size="24" text-anchor="middle" stroke="#000" stroke-width="0.55">(2)</text>
<text x="1493.5" y="640.5" font-size="24" text-anchor="middle" stroke="#000" stroke-width="0.55">(3)</text>
<text x="1586.0" y="640.5" font-size="24" text-anchor="middle" stroke="#000" stroke-width="0.55">(4)</text>
<line x1="1305.4" y1="458.2" x2="1530.0" y2="458.2" stroke="#000" stroke-width="3.2" />
<path d="M1412.2 458.2V409.5H1530.8" fill="none" stroke="#000" stroke-width="3.2" />
<line x1="1530.8" y1="392.8" x2="1530.8" y2="428.5" stroke="#000" stroke-width="3.2" />
<text x="1476.0" y="412.9" font-size="40" text-anchor="middle" textLength="63.0" lengthAdjust="spacingAndGlyphs">****</text>
<text x="1206.0" y="609.0" font-size="26" textLength="335.5" lengthAdjust="spacingAndGlyphs" transform="rotate(-90 1206.0 609.0)" stroke="#000" stroke-width="0.55">Percent wound closure (%)</text>
<!-- Panel E -->
<text x="44.0" y="706.0" font-size="37" stroke="#000" stroke-width="0.55">E</text>
<line x1="143.5" y1="724.5" x2="143.5" y2="1017.5" stroke="#000" stroke-width="3.4" />
<line x1="141.8" y1="1015.9" x2="451.5" y2="1015.9" stroke="#000" stroke-width="3.4" />
<line x1="134.5" y1="993.3" x2="143.5" y2="993.3" stroke="#000" stroke-width="3.2" />
<text x="131.0" y="1001.5" font-size="23" text-anchor="end" stroke="#000" stroke-width="0.55">0</text>
<line x1="134.5" y1="926.5" x2="143.5" y2="926.5" stroke="#000" stroke-width="3.2" />
<text x="131.0" y="934.8" font-size="23" text-anchor="end" stroke="#000" stroke-width="0.55">15</text>
<line x1="134.5" y1="859.8" x2="143.5" y2="859.8" stroke="#000" stroke-width="3.2" />
<text x="131.0" y="868.0" font-size="23" text-anchor="end" stroke="#000" stroke-width="0.55">30</text>
<line x1="134.5" y1="793.0" x2="143.5" y2="793.0" stroke="#000" stroke-width="3.2" />
<text x="131.0" y="801.2" font-size="23" text-anchor="end" stroke="#000" stroke-width="0.55">45</text>
<line x1="134.5" y1="726.3" x2="143.5" y2="726.3" stroke="#000" stroke-width="3.2" />
<text x="131.0" y="734.5" font-size="23" text-anchor="end" stroke="#000" stroke-width="0.55">60</text>
<line x1="143.5" y1="1015.9" x2="143.5" y2="1022.5" stroke="#000" stroke-width="3.2" />
<text x="143.5" y="1045.0" font-size="23" text-anchor="middle" stroke="#000" stroke-width="0.55">0</text>
<line x1="200.2" y1="1015.9" x2="200.2" y2="1022.5" stroke="#000" stroke-width="3.2" />
<text x="200.2" y="1045.0" font-size="23" text-anchor="middle" stroke="#000" stroke-width="0.55">2</text>
<line x1="256.9" y1="1015.9" x2="256.9" y2="1022.5" stroke="#000" stroke-width="3.2" />
<text x="256.9" y="1045.0" font-size="23" text-anchor="middle" stroke="#000" stroke-width="0.55">4</text>
<line x1="313.5" y1="1015.9" x2="313.5" y2="1022.5" stroke="#000" stroke-width="3.2" />
<text x="313.5" y="1045.0" font-size="23" text-anchor="middle" stroke="#000" stroke-width="0.55">6</text>
<line x1="370.2" y1="1015.9" x2="370.2" y2="1022.5" stroke="#000" stroke-width="3.2" />
<text x="370.2" y="1045.0" font-size="23" text-anchor="middle" stroke="#000" stroke-width="0.55">8</text>
<line x1="426.9" y1="1015.9" x2="426.9" y2="1022.5" stroke="#000" stroke-width="3.2" />
<text x="426.9" y="1045.0" font-size="23" text-anchor="middle" stroke="#000" stroke-width="0.55">10</text>
<text x="219.0" y="1071.0" font-size="28" textLength="157.5" lengthAdjust="spacingAndGlyphs" stroke="#000" stroke-width="0.55">Time (Days)</text>
<text x="96.5" y="1048.5" font-size="28" textLength="357.0" lengthAdjust="spacingAndGlyphs" transform="rotate(-90 96.5 1048.5)" stroke="#000" stroke-width="0.55">Percent wound closure (%)</text>
<line x1="149.4" y1="739.8" x2="183.6" y2="739.8" stroke="#000" stroke-width="3.4" />
<rect x="164.5" y="737.6" width="4.4" height="4.4" fill="#000" />
<text x="190.5" y="746.5" font-size="22" textLength="26.0" lengthAdjust="spacingAndGlyphs" stroke="#000" stroke-width="0.55">(1)</text>
<line x1="257.8" y1="739.8" x2="292.3" y2="739.8" stroke="#0a7a18" stroke-width="3.4" />
<circle cx="275.0" cy="739.8" r="2.6" fill="#0a7a18" />
<text x="299.7" y="746.5" font-size="22" textLength="26.0" lengthAdjust="spacingAndGlyphs" stroke="#000" stroke-width="0.55">(2)</text>
<line x1="149.4" y1="767.3" x2="183.6" y2="767.3" stroke="#0707e0" stroke-width="3.4" />
<path d="M166.5 764.3 L169.8 769.8 L163.2 769.8Z" fill="#0707e0" />
<text x="190.5" y="773.8" font-size="22" textLength="26.0" lengthAdjust="spacingAndGlyphs" stroke="#000" stroke-width="0.55">(3)</text>
<line x1="257.8" y1="767.8" x2="292.3" y2="767.8" stroke="#e1171d" stroke-width="3.4" />
<path d="M275 771 L278.3 765.5 L271.7 765.5Z" fill="#e1171d" />
<text x="299.7" y="773.8" font-size="22" textLength="26.0" lengthAdjust="spacingAndGlyphs" stroke="#000" stroke-width="0.55">(4)</text>
<line x1="256.9" y1="965.0" x2="256.9" y2="981.8" stroke="#000" stroke-width="3.6" />
<line x1="254.1" y1="965.0" x2="259.6" y2="965.0" stroke="#000" stroke-width="3.4" />
<line x1="254.1" y1="981.8" x2="259.6" y2="981.8" stroke="#000" stroke-width="3.4" />
<line x1="313.5" y1="958.0" x2="313.5" y2="990.0" stroke="#000" stroke-width="3.6" />
<line x1="310.8" y1="958.0" x2="316.3" y2="958.0" stroke="#000" stroke-width="3.4" />
<line x1="310.8" y1="990.0" x2="316.3" y2="990.0" stroke="#000" stroke-width="3.4" />
<line x1="370.2" y1="948.0" x2="370.2" y2="980.3" stroke="#000" stroke-width="3.6" />
<line x1="367.5" y1="948.0" x2="373.0" y2="948.0" stroke="#000" stroke-width="3.4" />
<line x1="367.5" y1="980.3" x2="373.0" y2="980.3" stroke="#000" stroke-width="3.4" />
<line x1="426.9" y1="937.0" x2="426.9" y2="949.0" stroke="#000" stroke-width="3.6" />
<line x1="424.1" y1="937.0" x2="429.6" y2="937.0" stroke="#000" stroke-width="3.4" />
<line x1="424.1" y1="949.0" x2="429.6" y2="949.0" stroke="#000" stroke-width="3.4" />
<path d="M143.5 993.3 L200.2 988.7 L256.9 973.5 L313.5 974.7 L370.2 963.3 L426.9 938.5" fill="none" stroke="#000" stroke-width="4" stroke-linejoin="round"/>
<line x1="200.2" y1="984.0" x2="200.2" y2="996.0" stroke="#0a7a18" stroke-width="3.6" />
<line x1="197.4" y1="984.0" x2="202.9" y2="984.0" stroke="#0a7a18" stroke-width="3.4" />
<line x1="197.4" y1="996.0" x2="202.9" y2="996.0" stroke="#0a7a18" stroke-width="3.4" />
<line x1="256.9" y1="978.5" x2="256.9" y2="992.5" stroke="#0a7a18" stroke-width="3.6" />
<line x1="254.1" y1="978.5" x2="259.6" y2="978.5" stroke="#0a7a18" stroke-width="3.4" />
<line x1="254.1" y1="992.5" x2="259.6" y2="992.5" stroke="#0a7a18" stroke-width="3.4" />
<line x1="313.5" y1="958.2" x2="313.5" y2="990.0" stroke="#0a7a18" stroke-width="3.6" />
<line x1="310.8" y1="958.2" x2="316.3" y2="958.2" stroke="#0a7a18" stroke-width="3.4" />
<line x1="310.8" y1="990.0" x2="316.3" y2="990.0" stroke="#0a7a18" stroke-width="3.4" />
<line x1="370.2" y1="943.0" x2="370.2" y2="964.6" stroke="#0a7a18" stroke-width="3.6" />
<line x1="367.5" y1="943.0" x2="373.0" y2="943.0" stroke="#0a7a18" stroke-width="3.4" />
<line x1="367.5" y1="964.6" x2="373.0" y2="964.6" stroke="#0a7a18" stroke-width="3.4" />
<line x1="426.9" y1="904.0" x2="426.9" y2="993.0" stroke="#0a7a18" stroke-width="3.6" />
<line x1="424.1" y1="904.0" x2="429.6" y2="904.0" stroke="#0a7a18" stroke-width="3.4" />
<line x1="424.1" y1="993.0" x2="429.6" y2="993.0" stroke="#0a7a18" stroke-width="3.4" />
<path d="M143.5 993.3 L200.2 990.5 L256.9 985.6 L313.5 974.0 L370.2 953.9 L426.9 948.8" fill="none" stroke="#0a7a18" stroke-width="4" stroke-linejoin="round"/>
<line x1="200.2" y1="936.6" x2="200.2" y2="1001.4" stroke="#0707e0" stroke-width="3.6" />
<line x1="197.4" y1="936.6" x2="202.9" y2="936.6" stroke="#0707e0" stroke-width="3.4" />
<line x1="197.4" y1="1001.4" x2="202.9" y2="1001.4" stroke="#0707e0" stroke-width="3.4" />
<line x1="256.9" y1="932.0" x2="256.9" y2="947.3" stroke="#0707e0" stroke-width="3.6" />
<line x1="254.1" y1="932.0" x2="259.6" y2="932.0" stroke="#0707e0" stroke-width="3.4" />
<line x1="254.1" y1="947.3" x2="259.6" y2="947.3" stroke="#0707e0" stroke-width="3.4" />
<line x1="313.5" y1="927.7" x2="313.5" y2="933.0" stroke="#0707e0" stroke-width="3.6" />
<line x1="310.8" y1="927.7" x2="316.3" y2="927.7" stroke="#0707e0" stroke-width="3.4" />
<line x1="310.8" y1="933.0" x2="316.3" y2="933.0" stroke="#0707e0" stroke-width="3.4" />
<line x1="370.2" y1="899.8" x2="370.2" y2="910.0" stroke="#0707e0" stroke-width="3.6" />
<line x1="367.5" y1="899.8" x2="373.0" y2="899.8" stroke="#0707e0" stroke-width="3.4" />
<line x1="367.5" y1="910.0" x2="373.0" y2="910.0" stroke="#0707e0" stroke-width="3.4" />
<line x1="426.9" y1="839.6" x2="426.9" y2="861.0" stroke="#0707e0" stroke-width="3.6" />
<line x1="424.1" y1="839.6" x2="429.6" y2="839.6" stroke="#0707e0" stroke-width="3.4" />
<line x1="424.1" y1="861.0" x2="429.6" y2="861.0" stroke="#0707e0" stroke-width="3.4" />
<path d="M143.5 993.3 L200.2 969.1 L256.9 939.2 L313.5 930.3 L370.2 903.6 L426.9 850.3" fill="none" stroke="#0707e0" stroke-width="4" stroke-linejoin="round"/>
<line x1="200.2" y1="913.0" x2="200.2" y2="950.6" stroke="#e1171d" stroke-width="3.6" />
<line x1="197.4" y1="913.0" x2="202.9" y2="913.0" stroke="#e1171d" stroke-width="3.4" />
<line x1="197.4" y1="950.6" x2="202.9" y2="950.6" stroke="#e1171d" stroke-width="3.4" />
<line x1="256.9" y1="880.8" x2="256.9" y2="915.8" stroke="#e1171d" stroke-width="3.6" />
<line x1="254.1" y1="880.8" x2="259.6" y2="880.8" stroke="#e1171d" stroke-width="3.4" />
<line x1="254.1" y1="915.8" x2="259.6" y2="915.8" stroke="#e1171d" stroke-width="3.4" />
<line x1="313.5" y1="830.5" x2="313.5" y2="901.0" stroke="#e1171d" stroke-width="3.6" />
<line x1="310.8" y1="830.5" x2="316.3" y2="830.5" stroke="#e1171d" stroke-width="3.4" />
<line x1="310.8" y1="901.0" x2="316.3" y2="901.0" stroke="#e1171d" stroke-width="3.4" />
<line x1="370.2" y1="795.7" x2="370.2" y2="857.0" stroke="#e1171d" stroke-width="3.6" />
<line x1="367.5" y1="795.7" x2="373.0" y2="795.7" stroke="#e1171d" stroke-width="3.4" />
<line x1="367.5" y1="857.0" x2="373.0" y2="857.0" stroke="#e1171d" stroke-width="3.4" />
<line x1="426.9" y1="754.3" x2="426.9" y2="808.4" stroke="#e1171d" stroke-width="3.6" />
<line x1="424.1" y1="754.3" x2="429.6" y2="754.3" stroke="#e1171d" stroke-width="3.4" />
<line x1="424.1" y1="808.4" x2="429.6" y2="808.4" stroke="#e1171d" stroke-width="3.4" />
<path d="M143.5 993.3 L200.2 931.6 L256.9 898.0 L313.5 865.5 L370.2 826.7 L426.9 781.0" fill="none" stroke="#e1171d" stroke-width="4" stroke-linejoin="round"/>
<circle cx="426.9" cy="948.8" r="2.8" fill="#0a7a18" />
<rect x="424.4" y="936.0" width="5.0" height="5.0" fill="#000" />
<path d="M426.9 846.5 L430.7 853 L423.1 853Z" fill="#0707e0" />
<text x="256.0" y="886.4" font-size="40" text-anchor="middle">*</text>
<text x="312.5" y="837.9" font-size="40" text-anchor="middle" textLength="62.0" lengthAdjust="spacingAndGlyphs">****</text>
<text x="372.5" y="800.4" font-size="40" text-anchor="middle" textLength="62.0" lengthAdjust="spacingAndGlyphs">****</text>
<text x="422.6" y="764.2" font-size="40" text-anchor="middle" textLength="46.0" lengthAdjust="spacingAndGlyphs">***</text>
<!-- Panel F -->
<text x="474.0" y="706.0" font-size="37" stroke="#000" stroke-width="0.55">F</text>
<line x1="529.4" y1="732.0" x2="529.4" y2="1008.3" stroke="#000" stroke-width="3.2" />
<line x1="522.0" y1="1006.7" x2="823.5" y2="1006.7" stroke="#000" stroke-width="3.2" />
<line x1="522.0" y1="1006.7" x2="529.4" y2="1006.7" stroke="#000" stroke-width="3.2" />
<text x="521.5" y="1013.7" font-size="19.5" text-anchor="end" letter-spacing="3.5" stroke="#000" stroke-width="0.55">0</text>
<line x1="522.0" y1="915.7" x2="529.4" y2="915.7" stroke="#000" stroke-width="3.2" />
<text x="521.5" y="922.7" font-size="19.5" text-anchor="end" letter-spacing="3.5" stroke="#000" stroke-width="0.55">5</text>
<line x1="522.0" y1="824.7" x2="529.4" y2="824.7" stroke="#000" stroke-width="3.2" />
<text x="521.5" y="831.7" font-size="19.5" text-anchor="end" letter-spacing="3.5" stroke="#000" stroke-width="0.55">10</text>
<line x1="522.0" y1="733.7" x2="529.4" y2="733.7" stroke="#000" stroke-width="3.2" />
<text x="521.5" y="740.7" font-size="19.5" text-anchor="end" letter-spacing="3.5" stroke="#000" stroke-width="0.55">15</text>
<text x="577.8" y="1041.5" font-size="23.5" text-anchor="middle" stroke="#000" stroke-width="0.55">(1)</text>
<text x="648.5" y="1041.5" font-size="23.5" text-anchor="middle" stroke="#000" stroke-width="0.55">(2)</text>
<text x="710.5" y="1041.5" font-size="23.5" text-anchor="middle" stroke="#000" stroke-width="0.55">(3)</text>
<text x="772.6" y="1041.5" font-size="23.5" text-anchor="middle" stroke="#000" stroke-width="0.55">(4)</text>
<text x="488.5" y="1021.0" font-size="20.5" textLength="300.0" lengthAdjust="spacing" transform="rotate(-90 488.5 1021.0)" stroke="#000" stroke-width="0.55">% CD206<tspan dy="-10" font-size="15">+</tspan><tspan dy="10"> in F4/80</tspan><tspan dy="-10" font-size="15">+</tspan><tspan dy="10"> cells</tspan></text>
<circle cx="565.4" cy="937.5" r="5.2" fill="#000" />
<circle cx="592.7" cy="944.2" r="5.2" fill="#000" />
<circle cx="583.5" cy="957.8" r="5.2" fill="#000" />
<circle cx="565.4" cy="972.7" r="5.2" fill="#000" />
<line x1="552.5" y1="952.4" x2="597.0" y2="952.4" stroke="#000" stroke-width="3.4" />
<line x1="575.3" y1="936.7" x2="575.3" y2="967.8" stroke="#000" stroke-width="3.4" />
<line x1="566.0" y1="936.7" x2="585.0" y2="936.7" stroke="#000" stroke-width="3.4" />
<line x1="566.0" y1="967.8" x2="585.0" y2="967.8" stroke="#000" stroke-width="3.4" />
<rect x="627.4" y="874.2" width="11.0" height="11.0" fill="#0c6e1a" />
<rect x="653.7" y="885.8" width="11.0" height="11.0" fill="#0c6e1a" />
<rect x="645.0" y="899.0" width="11.0" height="11.0" fill="#0c6e1a" />
<rect x="627.4" y="906.5" width="11.0" height="11.0" fill="#0c6e1a" />
<line x1="619.5" y1="896.3" x2="663.4" y2="896.3" stroke="#0c6e1a" stroke-width="3.4" />
<line x1="642.3" y1="881.4" x2="642.3" y2="909.5" stroke="#0c6e1a" stroke-width="3.4" />
<line x1="633.2" y1="881.4" x2="651.5" y2="881.4" stroke="#0c6e1a" stroke-width="3.4" />
<line x1="633.2" y1="909.5" x2="651.5" y2="909.5" stroke="#0c6e1a" stroke-width="3.4" />
<path d="M700.6 868.2 L707.1 879.7 L694.1 879.7Z" fill="#0a0a8c" />
<path d="M726.0 885.1 L732.5 896.6 L719.5 896.6Z" fill="#0a0a8c" />
<path d="M718.0 895.5 L724.5 907.0 L711.5 907.0Z" fill="#0a0a8c" />
<path d="M700.6 909.2 L707.1 920.7 L694.1 920.7Z" fill="#0a0a8c" />
<line x1="687.0" y1="895.0" x2="731.6" y2="895.0" stroke="#0a0a8c" stroke-width="3.4" />
<line x1="710.0" y1="877.2" x2="710.0" y2="912.0" stroke="#0a0a8c" stroke-width="3.4" />
<line x1="700.6" y1="877.2" x2="719.2" y2="877.2" stroke="#0a0a8c" stroke-width="3.4" />
<line x1="700.6" y1="912.0" x2="719.2" y2="912.0" stroke="#0a0a8c" stroke-width="3.4" />
<path d="M776.3 794.6 L782.5 784.1 L770.1 784.1Z" fill="#e0191e" />
<path d="M785.0 846.7 L791.2 836.2 L778.8 836.2Z" fill="#e0191e" />
<path d="M768.4 855.0 L774.6 844.5 L762.2 844.5Z" fill="#e0191e" />
<line x1="754.7" y1="827.6" x2="798.6" y2="827.6" stroke="#e0191e" stroke-width="3.4" />
<line x1="776.3" y1="800.3" x2="776.3" y2="854.9" stroke="#e0191e" stroke-width="3.4" />
<line x1="766.4" y1="800.3" x2="787.0" y2="800.3" stroke="#e0191e" stroke-width="3.4" />
<line x1="766.4" y1="854.9" x2="787.0" y2="854.9" stroke="#e0191e" stroke-width="3.4" />
<line x1="574.8" y1="825.0" x2="728.0" y2="825.0" stroke="#000" stroke-width="3.4" />
<path d="M653.5 825.0V800.8H688.2" fill="none" stroke="#000" stroke-width="3.4" />
<line x1="688.2" y1="790.3" x2="688.2" y2="812.7" stroke="#000" stroke-width="3.4" />
<text x="575.0" y="939.8" font-size="40" text-anchor="middle" textLength="62.0" lengthAdjust="spacingAndGlyphs">****</text>
<text x="645.5" y="877.7" font-size="40" text-anchor="middle" textLength="45.5" lengthAdjust="spacingAndGlyphs">***</text>
<text x="715.5" y="870.4" font-size="40" text-anchor="middle" textLength="61.5" lengthAdjust="spacingAndGlyphs">****</text>
<!-- Panel G -->
<text x="838.0" y="706.5" font-size="37" stroke="#000" stroke-width="0.55">G</text>
<rect x="893.2" y="719.3" width="298.0" height="317.29999999999995" fill="none" stroke="#000" stroke-width="3.2"/>
<line x1="885.0" y1="1036.6" x2="893.2" y2="1036.6" stroke="#000" stroke-width="3.2" />
<line x1="1191.2" y1="1036.6" x2="1199.5" y2="1036.6" stroke="#000" stroke-width="3.2" />
<text x="882.0" y="1044.2" font-size="22" text-anchor="end" stroke="#000" stroke-width="0.55">0</text>
<text x="1204.5" y="1044.2" font-size="22" stroke="#000" stroke-width="0.55">0</text>
<line x1="885.0" y1="942.7" x2="893.2" y2="942.7" stroke="#000" stroke-width="3.2" />
<line x1="1191.2" y1="942.7" x2="1199.5" y2="942.7" stroke="#000" stroke-width="3.2" />
<text x="882.0" y="950.3" font-size="22" text-anchor="end" stroke="#000" stroke-width="0.55">2</text>
<text x="1204.5" y="950.3" font-size="22" stroke="#000" stroke-width="0.55">4</text>
<line x1="885.0" y1="848.8" x2="893.2" y2="848.8" stroke="#000" stroke-width="3.2" />
<line x1="1191.2" y1="848.8" x2="1199.5" y2="848.8" stroke="#000" stroke-width="3.2" />
<text x="882.0" y="856.4" font-size="22" text-anchor="end" stroke="#000" stroke-width="0.55">4</text>
<text x="1204.5" y="856.4" font-size="22" stroke="#000" stroke-width="0.55">8</text>
<line x1="885.0" y1="754.9" x2="893.2" y2="754.9" stroke="#000" stroke-width="3.2" />
<line x1="1191.2" y1="754.9" x2="1199.5" y2="754.9" stroke="#000" stroke-width="3.2" />
<text x="882.0" y="762.5" font-size="22" text-anchor="end" stroke="#000" stroke-width="0.55">6</text>
<text x="1204.5" y="762.5" font-size="22" stroke="#000" stroke-width="0.55">12</text>
<text x="861.0" y="1025.0" font-size="27" textLength="293.0" lengthAdjust="spacingAndGlyphs" transform="rotate(-90 861.0 1025.0)" stroke="#000" stroke-width="0.55">CD31 positive area (%)</text>
<text x="1261.0" y="1019.0" font-size="27" textLength="274.0" lengthAdjust="spacingAndGlyphs" transform="rotate(-90 1261.0 1019.0)" stroke="#000" stroke-width="0.55">CD31 intensity (x10<tspan dy="-13" font-size="21">6</tspan><tspan dy="13">)</tspan></text>
<rect x="895.3" y="726.6" width="37.6" height="18.7" fill="#000" />
<text x="939.4" y="741.6" font-size="22" textLength="25.0" lengthAdjust="spacingAndGlyphs" stroke="#000" stroke-width="0.55">(1)</text>
<rect x="1014.2" y="726.6" width="37.6" height="18.7" fill="#0a7a18" />
<text x="1058.8" y="741.6" font-size="22" textLength="25.0" lengthAdjust="spacingAndGlyphs" stroke="#000" stroke-width="0.55">(2)</text>
<rect x="895.3" y="753.9" width="37.6" height="18.6" fill="#0000fa" />
<text x="939.4" y="768.8" font-size="22" textLength="25.0" lengthAdjust="spacingAndGlyphs" stroke="#000" stroke-width="0.55">(3)</text>
<rect x="1014.2" y="753.9" width="37.6" height="18.6" fill="#ff0000" />
<text x="1058.8" y="768.8" font-size="22" textLength="25.0" lengthAdjust="spacingAndGlyphs" stroke="#000" stroke-width="0.55">(4)</text>
<rect x="900.0" y="954.8" width="17.4" height="81.8" fill="#000" />
<line x1="908.7" y1="930.9" x2="908.7" y2="955.8" stroke="#000" stroke-width="3.6" />
<line x1="905.3" y1="931.9" x2="912.1" y2="931.9" stroke="#000" stroke-width="2.6" />
<rect x="933.4" y="958.2" width="17.2" height="78.4" fill="#0a7a18" />
<line x1="942.0" y1="940.0" x2="942.0" y2="959.2" stroke="#0a7a18" stroke-width="3.6" />
<line x1="938.6" y1="941.0" x2="945.4" y2="941.0" stroke="#0a7a18" stroke-width="2.6" />
<rect x="966.7" y="968.5" width="17.3" height="68.1" fill="#0000fa" />
<line x1="975.4" y1="956.9" x2="975.4" y2="969.5" stroke="#0000fa" stroke-width="3.6" />
<line x1="972.0" y1="957.9" x2="978.8" y2="957.9" stroke="#0000fa" stroke-width="2.6" />
<rect x="1000.4" y="877.7" width="17.4" height="158.9" fill="#ff0000" />
<line x1="1009.1" y1="841.3" x2="1009.1" y2="878.7" stroke="#e0191e" stroke-width="3.6" />
<line x1="1005.7" y1="842.3" x2="1012.5" y2="842.3" stroke="#e0191e" stroke-width="2.6" />
<rect x="1047.0" y="937.4" width="19.6" height="99.2" fill="#000" />
<line x1="1056.8" y1="907.5" x2="1056.8" y2="938.4" stroke="#000" stroke-width="3.6" />
<line x1="1053.4" y1="908.5" x2="1060.2" y2="908.5" stroke="#000" stroke-width="2.6" />
<rect x="1085.6" y="940.8" width="19.4" height="95.8" fill="#0a7a18" />
<line x1="1095.3" y1="917.9" x2="1095.3" y2="941.8" stroke="#0a7a18" stroke-width="3.6" />
<line x1="1091.9" y1="918.9" x2="1098.7" y2="918.9" stroke="#0a7a18" stroke-width="2.6" />
<rect x="1124.3" y="953.0" width="19.4" height="83.6" fill="#0000fa" />
<line x1="1134.0" y1="940.0" x2="1134.0" y2="954.0" stroke="#0000fa" stroke-width="3.6" />
<line x1="1130.6" y1="941.0" x2="1137.4" y2="941.0" stroke="#0000fa" stroke-width="2.6" />
<rect x="1162.7" y="846.0" width="19.4" height="190.6" fill="#ff0000" />
<line x1="1172.4" y1="785.5" x2="1172.4" y2="847.0" stroke="#e0191e" stroke-width="3.6" />
<line x1="1169.0" y1="786.5" x2="1175.8" y2="786.5" stroke="#e0191e" stroke-width="2.6" />
<line x1="909.0" y1="873.8" x2="991.3" y2="873.8" stroke="#000" stroke-width="3.2" />
<path d="M947.2 873.8V834.0H983.6" fill="none" stroke="#000" stroke-width="3.2" />
<line x1="983.6" y1="824.0" x2="983.6" y2="847.3" stroke="#000" stroke-width="3.2" />
<line x1="1055.7" y1="849.1" x2="1138.0" y2="849.1" stroke="#000" stroke-width="3.2" />
<path d="M1094.7 849.1V810.2H1130.2" fill="none" stroke="#000" stroke-width="3.2" />
<line x1="1130.2" y1="797.2" x2="1130.2" y2="820.0" stroke="#000" stroke-width="3.2" />
<text x="908.3" y="937.0" font-size="40" text-anchor="middle">*</text>
<text x="943.3" y="947.4" font-size="40" text-anchor="middle">*</text>
<text x="977.7" y="922.7" font-size="40" text-anchor="middle" textLength="30.0" lengthAdjust="spacingAndGlyphs">**</text>
<text x="1057.5" y="912.4" font-size="40" text-anchor="middle">*</text>
<text x="1095.2" y="922.2" font-size="40" text-anchor="middle">*</text>
<text x="1133.8" y="912.4" font-size="40" text-anchor="middle" textLength="30.5" lengthAdjust="spacingAndGlyphs">**</text>
<!-- Panel H -->
<text x="1348.5" y="706.0" font-size="37" stroke="#000" stroke-width="0.55">H</text>
<rect x="1345.6" y="717.7" width="303.70000000000005" height="317.79999999999995" fill="none" stroke="#000" stroke-width="3.2"/>
<line x1="1337.5" y1="1035.5" x2="1345.6" y2="1035.5" stroke="#000" stroke-width="3.2" />
<line x1="1649.3" y1="1035.5" x2="1657.5" y2="1035.5" stroke="#000" stroke-width="3.2" />
<text x="1335.5" y="1043.1" font-size="22" text-anchor="end" stroke="#000" stroke-width="0.55">0</text>
<text x="1662.0" y="1043.1" font-size="22" stroke="#000" stroke-width="0.55">0</text>
<line x1="1337.5" y1="956.2" x2="1345.6" y2="956.2" stroke="#000" stroke-width="3.2" />
<line x1="1649.3" y1="956.2" x2="1657.5" y2="956.2" stroke="#000" stroke-width="3.2" />
<text x="1335.5" y="963.8" font-size="22" text-anchor="end" stroke="#000" stroke-width="0.55">10</text>
<text x="1662.0" y="963.8" font-size="22" stroke="#000" stroke-width="0.55">20</text>
<line x1="1337.5" y1="876.9" x2="1345.6" y2="876.9" stroke="#000" stroke-width="3.2" />
<line x1="1649.3" y1="876.9" x2="1657.5" y2="876.9" stroke="#000" stroke-width="3.2" />
<text x="1335.5" y="884.5" font-size="22" text-anchor="end" stroke="#000" stroke-width="0.55">20</text>
<text x="1662.0" y="884.5" font-size="22" stroke="#000" stroke-width="0.55">40</text>
<line x1="1337.5" y1="797.6" x2="1345.6" y2="797.6" stroke="#000" stroke-width="3.2" />
<line x1="1649.3" y1="797.6" x2="1657.5" y2="797.6" stroke="#000" stroke-width="3.2" />
<text x="1335.5" y="805.2" font-size="22" text-anchor="end" stroke="#000" stroke-width="0.55">30</text>
<text x="1662.0" y="805.2" font-size="22" stroke="#000" stroke-width="0.55">60</text>
<line x1="1337.5" y1="718.3" x2="1345.6" y2="718.3" stroke="#000" stroke-width="3.2" />
<line x1="1649.3" y1="718.3" x2="1657.5" y2="718.3" stroke="#000" stroke-width="3.2" />
<text x="1335.5" y="725.9" font-size="22" text-anchor="end" stroke="#000" stroke-width="0.55">40</text>
<text x="1662.0" y="725.9" font-size="22" stroke="#000" stroke-width="0.55">80</text>
<text x="1304.5" y="1064.0" font-size="28" textLength="369.0" lengthAdjust="spacingAndGlyphs" transform="rotate(-90 1304.5 1064.0)" stroke="#000" stroke-width="0.55">Integrin α-3 positive area (%)</text>
<text x="1719.5" y="1056.0" font-size="28" textLength="351.5" lengthAdjust="spacingAndGlyphs" transform="rotate(-90 1719.5 1056.0)" stroke="#000" stroke-width="0.55">Integrin α-3 intensity (x10<tspan dy="-13" font-size="21">6</tspan><tspan dy="13">)</tspan></text>
<rect x="1351.7" y="725.7" width="37.7" height="18.0" fill="#000" />
<text x="1396.0" y="740.5" font-size="22" textLength="25.0" lengthAdjust="spacingAndGlyphs" stroke="#000" stroke-width="0.55">(1)</text>
<rect x="1470.8" y="725.7" width="37.9" height="18.0" fill="#0a7a18" />
<text x="1515.4" y="740.5" font-size="22" textLength="25.0" lengthAdjust="spacingAndGlyphs" stroke="#000" stroke-width="0.55">(2)</text>
<rect x="1351.7" y="752.8" width="37.7" height="18.0" fill="#0000fa" />
<text x="1396.0" y="767.8" font-size="22" textLength="25.0" lengthAdjust="spacingAndGlyphs" stroke="#000" stroke-width="0.55">(3)</text>
<rect x="1470.8" y="752.8" width="37.9" height="18.0" fill="#ff0000" />
<text x="1515.4" y="767.8" font-size="22" textLength="25.0" lengthAdjust="spacingAndGlyphs" stroke="#000" stroke-width="0.55">(4)</text>
<rect x="1355.7" y="995.7" width="20.4" height="39.8" fill="#000" />
<line x1="1365.9" y1="991.0" x2="1365.9" y2="996.7" stroke="#000" stroke-width="3.6" />
<line x1="1362.5" y1="992.0" x2="1369.3" y2="992.0" stroke="#000" stroke-width="2.6" />
<rect x="1395.5" y="1009.5" width="20.4" height="26.0" fill="#0a7a18" />
<line x1="1405.7" y1="1005.5" x2="1405.7" y2="1010.5" stroke="#0a7a18" stroke-width="3.6" />
<line x1="1402.3" y1="1006.5" x2="1409.1" y2="1006.5" stroke="#0a7a18" stroke-width="2.6" />
<rect x="1435.3" y="999.7" width="20.4" height="35.8" fill="#0000fa" />
<line x1="1445.5" y1="995.7" x2="1445.5" y2="1000.7" stroke="#0000fa" stroke-width="3.6" />
<line x1="1442.1" y1="996.7" x2="1448.9" y2="996.7" stroke="#0000fa" stroke-width="2.6" />
<rect x="1475.0" y="852.5" width="20.5" height="183.0" fill="#ff0000" />
<line x1="1485.2" y1="819.9" x2="1485.2" y2="853.5" stroke="#e0191e" stroke-width="3.6" />
<line x1="1481.8" y1="820.9" x2="1488.7" y2="820.9" stroke="#e0191e" stroke-width="2.6" />
<rect x="1518.0" y="988.3" width="18.0" height="47.2" fill="#000" />
<line x1="1527.0" y1="983.0" x2="1527.0" y2="989.3" stroke="#000" stroke-width="3.6" />
<line x1="1523.6" y1="984.0" x2="1530.4" y2="984.0" stroke="#000" stroke-width="2.6" />
<rect x="1553.3" y="1004.7" width="18.3" height="30.8" fill="#0a7a18" />
<line x1="1562.4" y1="1000.2" x2="1562.4" y2="1005.7" stroke="#0a7a18" stroke-width="3.6" />
<line x1="1559.0" y1="1001.2" x2="1565.8" y2="1001.2" stroke="#0a7a18" stroke-width="2.6" />
<rect x="1588.8" y="994.1" width="18.1" height="41.4" fill="#0000fa" />
<line x1="1597.8" y1="988.3" x2="1597.8" y2="995.1" stroke="#0000fa" stroke-width="3.6" />
<line x1="1594.4" y1="989.3" x2="1601.2" y2="989.3" stroke="#0000fa" stroke-width="2.6" />
<rect x="1624.1" y="823.0" width="18.0" height="212.5" fill="#ff0000" />
<line x1="1633.1" y1="784.9" x2="1633.1" y2="824.0" stroke="#e0191e" stroke-width="3.6" />
<line x1="1629.7" y1="785.9" x2="1636.5" y2="785.9" stroke="#e0191e" stroke-width="2.6" />
<line x1="1369.5" y1="910.0" x2="1463.6" y2="910.0" stroke="#000" stroke-width="3.2" />
<path d="M1414.6 910.0V872.9H1449.8" fill="none" stroke="#000" stroke-width="3.2" />
<line x1="1449.8" y1="860.5" x2="1449.8" y2="883.5" stroke="#000" stroke-width="3.2" />
<text x="1414.5" y="951.7" font-size="40" text-anchor="middle" textLength="62.0" lengthAdjust="spacingAndGlyphs">****</text>
<line x1="1514.6" y1="940.6" x2="1609.5" y2="940.6" stroke="#000" stroke-width="3.2" />
<path d="M1559.9 940.6V902.9H1595.0" fill="none" stroke="#000" stroke-width="3.2" />
<line x1="1595.0" y1="890.7" x2="1595.0" y2="913.5" stroke="#000" stroke-width="3.2" />
<text x="1563.3" y="979.0" font-size="40" text-anchor="middle" textLength="61.5" lengthAdjust="spacingAndGlyphs">****</text>
<!-- Panel I -->
<text x="42.6" y="1104.4" font-size="37.5" stroke="#000" stroke-width="1.4">I</text>
<defs><filter id="hfib" x="0" y="0" width="100%" height="100%" color-interpolation-filters="sRGB"><feTurbulence type="fractalNoise" baseFrequency="0.06 0.13" numOctaves="3" seed="3"/><feColorMatrix type="matrix" values="0 0 0 0 1  0 0 0 0 0.82  0 0 0 0 0.88  3 0 0 0 -1.35"/></filter><filter id="hdark" x="0" y="0" width="100%" height="100%" color-interpolation-filters="sRGB"><feTurbulence type="fractalNoise" baseFrequency="0.08 0.14" numOctaves="3" seed="11"/><feColorMatrix type="matrix" values="0 0 0 0 0.8  0 0 0 0 0.25  0 0 0 0 0.42  0 3 0 0 -1.35"/></filter><filter id="hnuc" x="0" y="0" width="100%" height="100%" color-interpolation-filters="sRGB"><feTurbulence type="fractalNoise" baseFrequency="0.33 0.37" numOctaves="2" seed="5"/><feColorMatrix type="matrix" values="0 0 0 0 0.56  0 0 0 0 0.3  0 0 0 0 0.62  8 0 0 0 -4.9"/></filter><filter id="hnuc2" x="0" y="0" width="100%" height="100%" color-interpolation-filters="sRGB"><feTurbulence type="fractalNoise" baseFrequency="0.3 0.34" numOctaves="2" seed="8"/><feColorMatrix type="matrix" values="0 0 0 0 0.47  0 0 0 0 0.22  0 0 0 0 0.62  7 0 0 0 -3.5"/></filter><filter id="hpatch" x="0" y="0" width="100%" height="100%" color-interpolation-filters="sRGB"><feTurbulence type="fractalNoise" baseFrequency="0.012 0.03" numOctaves="2" seed="21"/><feColorMatrix type="matrix" values="0 0 0 0 0.93  0 0 0 0 0.42  0 0 0 0 0.58  6 0 0 0 -2.9"/></filter><filter id="hpurp" x="0" y="0" width="100%" height="100%" color-interpolation-filters="sRGB"><feTurbulence type="fractalNoise" baseFrequency="0.015 0.035" numOctaves="2" seed="41"/><feColorMatrix type="matrix" values="0 0 0 0 0.5  0 0 0 0 0.24  0 0 0 0 0.64  0 5 0 0 -2.1"/></filter><filter id="hcrack" x="0" y="0" width="100%" height="100%" color-interpolation-filters="sRGB"><feTurbulence type="fractalNoise" baseFrequency="0.02 0.14" numOctaves="3" seed="14"/><feColorMatrix type="matrix" values="0 0 0 0 1  0 0 0 0 0.9  0 0 0 0 0.93  10 0 0 0 -6.5"/></filter><filter id="hred" x="0" y="0" width="100%" height="100%" color-interpolation-filters="sRGB"><feTurbulence type="fractalNoise" baseFrequency="0.03 0.09" numOctaves="3" seed="17"/><feColorMatrix type="matrix" values="0 0 0 0 0.74  0 0 0 0 0.08  0 0 0 0 0.25  0 4 0 0 -1.7"/></filter></defs>
<defs><clipPath id="hb0"><rect x="102.3" y="1099.8" width="354.9" height="191.5"/></clipPath></defs>
<defs><clipPath id="hb1"><rect x="511.3" y="1099.8" width="354.9" height="191.5"/></clipPath></defs>
<defs><clipPath id="hb2"><rect x="920.3" y="1099.8" width="354.9" height="191.5"/></clipPath></defs>
<defs><clipPath id="hb3"><rect x="1344.3" y="1099.8" width="354.9" height="191.5"/></clipPath></defs>
<defs><clipPath id="ht0"><path d="M102.3 1223.5 Q108.5 1202.6 112.7 1189.0 Q116.9 1175.4 127.3 1166.0 Q137.8 1156.6 158.6 1149.9 Q179.5 1143.1 200.4 1140.7 Q221.3 1138.3 252.6 1137.2 Q283.9 1136.2 294.4 1137.5 Q304.8 1138.9 325.7 1143.8 Q346.6 1148.7 367.5 1152.7 Q388.3 1156.6 409.2 1159.8 Q430.1 1162.9 443.7 1161.7 L457.2 1160.4 L457.2 1291.3 L102.3 1291.3Z"/></clipPath></defs>
<g clip-path="url(#hb0)">
<path d="M102.3 1210.9 Q116.9 1156.6 132.5 1147.8 Q148.2 1138.9 166.0 1135.0 Q183.7 1131.2 233.8 1130.1 Q283.9 1129.1 325.7 1132.9 Q367.5 1136.8 388.3 1139.2 Q409.2 1141.6 433.2 1142.0 L457.2 1142.4" fill="none" stroke="#f2b6c8" stroke-width="4" />
<path d="M137.8 1154.6 Q183.7 1138.9 233.8 1136.3 Q283.9 1133.7 325.7 1138.7 Q367.5 1143.7 412.3 1148.6 L457.2 1153.5" fill="none" stroke="#efa3ba" stroke-width="5" />
<path d="M102.3 1223.5 Q108.5 1202.6 112.7 1189.0 Q116.9 1175.4 127.3 1166.0 Q137.8 1156.6 158.6 1149.9 Q179.5 1143.1 200.4 1140.7 Q221.3 1138.3 252.6 1137.2 Q283.9 1136.2 294.4 1137.5 Q304.8 1138.9 325.7 1143.8 Q346.6 1148.7 367.5 1152.7 Q388.3 1156.6 409.2 1159.8 Q430.1 1162.9 443.7 1161.7 L457.2 1160.4 L457.2 1291.3 L102.3 1291.3Z" fill="#f0809f" />
<g clip-path="url(#ht0)">
<rect x="102.0" y="1099.0" width="356.0" height="193.0" fill="#fff" filter="url(#hfib)" opacity="0.5"/>
<rect x="102.0" y="1099.0" width="356.0" height="193.0" fill="#fff" filter="url(#hdark)" opacity="0.2"/>
<rect x="102.0" y="1099.0" width="356.0" height="193.0" fill="#fff" filter="url(#hnuc)" opacity="0.45"/>
<ellipse cx="123.1" cy="1181.7" rx="9" ry="22" fill="#8f6fb6" opacity="0.8" filter="url(#b2)"/>
<ellipse cx="158.6" cy="1167.1" rx="40" ry="7" fill="#a478b4" opacity="0.55" filter="url(#b2)" transform="rotate(-18 158.6 1167.1)"/>
<ellipse cx="202.5" cy="1192.1" rx="5.0" ry="7.1" fill="#fdf3f6" stroke="#c98ab0" stroke-width="0.8" transform="rotate(0 202.5 1192.1)"/>
<ellipse cx="283.9" cy="1200.5" rx="7.5" ry="9.2" fill="#fdf3f6" stroke="#c98ab0" stroke-width="0.8" transform="rotate(0 283.9 1200.5)"/>
<ellipse cx="328.2" cy="1174.4" rx="4.2" ry="9.6" fill="#fdf3f6" stroke="#c98ab0" stroke-width="0.8" transform="rotate(8 328.2 1174.4)"/>
<ellipse cx="200.4" cy="1217.2" rx="5.4" ry="5.8" fill="#fdf3f6" stroke="#c98ab0" stroke-width="0.8" transform="rotate(0 200.4 1217.2)"/>
<ellipse cx="144.0" cy="1249.6" rx="7.5" ry="6.3" fill="#fdf3f6" stroke="#c98ab0" stroke-width="0.8" transform="rotate(0 144.0 1249.6)"/>
<ellipse cx="108.9" cy="1259.0" rx="5.0" ry="10.0" fill="#fdf3f6" stroke="#c98ab0" stroke-width="0.8" transform="rotate(0 108.9 1259.0)"/>
<ellipse cx="417.6" cy="1230.8" rx="2.5" ry="11.5" fill="#fdf3f6" stroke="#c98ab0" stroke-width="0.8" transform="rotate(25 417.6 1230.8)"/>
<ellipse cx="315.3" cy="1214.1" rx="2.9" ry="3.8" fill="#fdf3f6" stroke="#c98ab0" stroke-width="0.8" transform="rotate(0 315.3 1214.1)"/>
<ellipse cx="227.6" cy="1275.7" rx="3.8" ry="5.4" fill="#fdf3f6" stroke="#c98ab0" stroke-width="0.8" transform="rotate(0 227.6 1275.7)"/>
<ellipse cx="137.8" cy="1219.3" rx="6.3" ry="4.2" fill="#fdf3f6" stroke="#c98ab0" stroke-width="0.8" transform="rotate(0 137.8 1219.3)"/>
</g></g>
<line x1="223.4" y1="1141.0" x2="223.4" y2="1163.3" stroke="#111" stroke-width="2.2" />
<path d="M215.0 1151.0 L223.4 1141.0 L231.7 1151.0" fill="none" stroke="#111" stroke-width="2.2" />
<line x1="260.3" y1="1138.9" x2="260.3" y2="1162.1" stroke="#111" stroke-width="2.2" />
<path d="M252.0 1148.9 L260.3 1138.9 L268.7 1148.9" fill="none" stroke="#111" stroke-width="2.2" />
<line x1="295.8" y1="1138.3" x2="295.8" y2="1161.2" stroke="#111" stroke-width="2.2" />
<path d="M287.5 1148.3 L295.8 1138.3 L304.2 1148.3" fill="none" stroke="#111" stroke-width="2.2" />
<rect x="430.7" y="1281.5" width="21.7" height="4.4" fill="#000" />
<defs><clipPath id="ht1"><path d="M511.3 1143.1 Q525.9 1154.6 531.1 1166.0 Q536.3 1177.5 543.6 1183.8 Q550.9 1190.1 569.7 1195.3 Q588.5 1200.5 609.4 1205.7 Q630.3 1210.9 651.2 1215.1 Q672.0 1219.3 692.9 1220.5 Q713.8 1221.8 734.7 1221.8 Q755.6 1221.8 771.2 1218.5 Q786.9 1215.1 797.3 1203.6 Q807.8 1192.1 819.3 1182.7 Q830.7 1173.3 840.1 1162.9 Q849.5 1152.5 857.9 1143.1 L866.2 1133.7 L866.2 1291.3 L511.3 1291.3Z"/></clipPath></defs>
<g clip-path="url(#hb1)">
<path d="M722.2 1175.4 Q734.7 1167.1 743.0 1169.2 Q751.4 1171.3 759.8 1168.7 Q768.1 1166.0 775.4 1165.5 L782.7 1165.0" fill="none" stroke="#e7a7bf" stroke-width="2.2" />
<path d="M814.0 1115.9 Q826.6 1121.1 831.8 1126.4 Q837.0 1131.6 840.1 1133.7 L843.3 1135.8" fill="none" stroke="#e5a0ba" stroke-width="2.4" />
<path d="M607.3 1133.7 Q628.2 1134.7 633.4 1129.0 Q638.6 1123.2 641.2 1121.7 L643.9 1120.1" fill="none" stroke="#f1c9d6" stroke-width="1.6" />
<path d="M692.9 1127.4 Q705.5 1123.2 710.7 1127.9 Q715.9 1132.6 716.9 1137.3 L718.0 1142.0" fill="none" stroke="#f0c2d2" stroke-width="1.6" />
<path d="M678.3 1204.7 Q692.9 1210.9 699.2 1210.4 Q705.5 1209.9 711.7 1205.2 L718.0 1200.5" fill="none" stroke="#efc4d3" stroke-width="1.4" />
<path d="M511.3 1143.1 Q525.9 1154.6 531.1 1166.0 Q536.3 1177.5 543.6 1183.8 Q550.9 1190.1 569.7 1195.3 Q588.5 1200.5 609.4 1205.7 Q630.3 1210.9 651.2 1215.1 Q672.0 1219.3 692.9 1220.5 Q713.8 1221.8 734.7 1221.8 Q755.6 1221.8 771.2 1218.5 Q786.9 1215.1 797.3 1203.6 Q807.8 1192.1 819.3 1182.7 Q830.7 1173.3 840.1 1162.9 Q849.5 1152.5 857.9 1143.1 L866.2 1133.7 L866.2 1291.3 L511.3 1291.3Z" fill="#f087a6" />
<g clip-path="url(#ht1)">
<rect x="511.0" y="1099.0" width="356.0" height="193.0" fill="#fff" filter="url(#hfib)" opacity="0.55"/>
<rect x="511.0" y="1099.0" width="356.0" height="193.0" fill="#fff" filter="url(#hdark)" opacity="0.16"/>
<rect x="511.0" y="1099.0" width="356.0" height="193.0" fill="#fff" filter="url(#hnuc)" opacity="0.4"/>
<path d="M511.3 1143.1 Q525.9 1154.6 531.1 1166.0 Q536.3 1177.5 543.6 1183.8 Q550.9 1190.1 569.7 1195.3 Q588.5 1200.5 609.4 1205.7 Q630.3 1210.9 651.2 1215.1 Q672.0 1219.3 692.9 1220.5 Q713.8 1221.8 734.7 1221.8 Q755.6 1221.8 771.2 1218.5 Q786.9 1215.1 797.3 1203.6 Q807.8 1192.1 819.3 1182.7 Q830.7 1173.3 840.1 1162.9 Q849.5 1152.5 857.9 1143.1 L866.2 1133.7" fill="none" stroke="#b476b0" stroke-width="2.2" opacity="0.7"/>
<ellipse cx="839.1" cy="1183.8" rx="36" ry="10" fill="#a87cb8" opacity="0.5" filter="url(#b2)" transform="rotate(-45 839.1 1183.8)"/>
<ellipse cx="565.6" cy="1217.2" rx="6.3" ry="7.9" fill="#f9e3ea" stroke="#c58ab4" stroke-width="0.8" transform="rotate(0 565.6 1217.2)"/>
<ellipse cx="588.5" cy="1227.6" rx="5.4" ry="8.4" fill="#f9e3ea" stroke="#c58ab4" stroke-width="0.8" transform="rotate(0 588.5 1227.6)"/>
<ellipse cx="517.9" cy="1219.3" rx="3.3" ry="12.5" fill="#f9e3ea" stroke="#c58ab4" stroke-width="0.8" transform="rotate(0 517.9 1219.3)"/>
<ellipse cx="824.5" cy="1229.7" rx="8.4" ry="2.9" fill="#f9e3ea" stroke="#c58ab4" stroke-width="0.8" transform="rotate(-30 824.5 1229.7)"/>
<ellipse cx="855.8" cy="1252.7" rx="5.2" ry="6.3" fill="#f9e3ea" stroke="#c58ab4" stroke-width="0.8" transform="rotate(0 855.8 1252.7)"/>
</g></g>
<line x1="671.4" y1="1221.4" x2="671.4" y2="1242.7" stroke="#111" stroke-width="2.2" />
<path d="M663.1 1231.4 L671.4 1221.4 L679.8 1231.4" fill="none" stroke="#111" stroke-width="2.2" />
<line x1="708.6" y1="1224.5" x2="708.6" y2="1245.6" stroke="#111" stroke-width="2.2" />
<path d="M700.2 1234.5 L708.6 1224.5 L716.9 1234.5" fill="none" stroke="#111" stroke-width="2.2" />
<line x1="744.1" y1="1222.4" x2="744.1" y2="1243.5" stroke="#111" stroke-width="2.2" />
<path d="M735.7 1232.4 L744.1 1222.4 L752.4 1232.4" fill="none" stroke="#111" stroke-width="2.2" />
<rect x="838.1" y="1281.5" width="21.9" height="4.4" fill="#000" />
<rect x="865.2" y="1135.0" width="2.2" height="22.0" fill="#6a3a50" />
<defs><clipPath id="ht2"><path d="M920.3 1161.2 Q955.8 1161.9 976.6 1161.3 Q997.5 1160.8 1002.7 1157.2 Q1008.0 1153.5 1023.6 1148.0 Q1039.3 1142.4 1056.0 1141.8 Q1072.7 1141.2 1076.9 1138.5 Q1081.0 1135.8 1088.4 1134.7 Q1095.7 1133.7 1104.0 1136.8 Q1112.4 1139.9 1122.8 1146.2 Q1133.3 1152.5 1148.9 1155.6 Q1164.6 1158.7 1185.5 1156.9 Q1206.3 1155.0 1225.1 1153.7 Q1243.9 1152.5 1251.2 1156.4 Q1258.5 1160.4 1266.9 1161.7 L1275.2 1162.9 L1275.2 1291.3 L920.3 1291.3Z"/></clipPath></defs>
<g clip-path="url(#hb2)">
<path d="M920.3 1161.2 Q955.8 1161.9 976.6 1161.3 Q997.5 1160.8 1002.7 1157.2 Q1008.0 1153.5 1023.6 1148.0 Q1039.3 1142.4 1056.0 1141.8 Q1072.7 1141.2 1076.9 1138.5 Q1081.0 1135.8 1088.4 1134.7 Q1095.7 1133.7 1104.0 1136.8 Q1112.4 1139.9 1122.8 1146.2 Q1133.3 1152.5 1148.9 1155.6 Q1164.6 1158.7 1185.5 1156.9 Q1206.3 1155.0 1225.1 1153.7 Q1243.9 1152.5 1251.2 1156.4 Q1258.5 1160.4 1266.9 1161.7 L1275.2 1162.9 L1275.2 1291.3 L920.3 1291.3Z" fill="#e2629a" />
<g clip-path="url(#ht2)">
<rect x="920.0" y="1099.0" width="356.0" height="193.0" fill="#fff" filter="url(#hpatch)" opacity="0.9"/>
<rect x="920.0" y="1099.0" width="356.0" height="193.0" fill="#fff" filter="url(#hpurp)" opacity="0.42"/>
<rect x="920.0" y="1099.0" width="356.0" height="193.0" fill="#fff" filter="url(#hnuc2)" opacity="0.85"/>
<ellipse cx="1216.8" cy="1183.8" rx="70" ry="24" fill="#ec6f98" opacity="0.55" filter="url(#b4)"/>
<ellipse cx="1060.2" cy="1162.9" rx="60" ry="14" fill="#ec6f98" opacity="0.45" filter="url(#b4)"/>
<ellipse cx="1051.8" cy="1217.2" rx="62" ry="9" fill="#ee6f95" opacity="0.9" filter="url(#b2)" transform="rotate(-22 1051.8 1217.2)"/>
<ellipse cx="1164.6" cy="1181.7" rx="12" ry="22" fill="#ee6f90" opacity="0.9" filter="url(#b2)"/>
<ellipse cx="1223.0" cy="1166.0" rx="48" ry="8" fill="#ef6f90" opacity="0.95" filter="url(#b2)" transform="rotate(-4 1223.0 1166.0)"/>
<ellipse cx="1047.6" cy="1153.5" rx="36" ry="7" fill="#ef7898" opacity="0.9" filter="url(#b2)" transform="rotate(-14 1047.6 1153.5)"/>
<ellipse cx="976.6" cy="1240.2" rx="40" ry="8" fill="#ee7398" opacity="0.8" filter="url(#b2)" transform="rotate(-25 976.6 1240.2)"/>
</g></g>
<line x1="1010.5" y1="1156.6" x2="1019.4" y2="1175.9" stroke="#111" stroke-width="2.2" />
<path d="M1007.1 1169.3 L1010.5 1156.6 L1022.3 1162.2" fill="none" stroke="#111" stroke-width="2.2" />
<line x1="1050.8" y1="1143.1" x2="1059.1" y2="1162.9" stroke="#111" stroke-width="2.2" />
<path d="M1047.0 1155.5 L1050.8 1143.1 L1062.4 1149.1" fill="none" stroke="#111" stroke-width="2.2" />
<line x1="1094.6" y1="1141.0" x2="1102.3" y2="1161.2" stroke="#111" stroke-width="2.2" />
<path d="M1090.4 1153.3 L1094.6 1141.0 L1106.0 1147.4" fill="none" stroke="#111" stroke-width="2.2" />
<rect x="1247.5" y="1281.1" width="21.9" height="4.4" fill="#000" />
<defs><clipPath id="ht3"><path d="M1344.3 1185.9 Q1350.5 1175.4 1354.7 1171.5 Q1358.9 1167.5 1374.5 1165.2 Q1390.2 1162.9 1405.9 1155.8 Q1421.5 1148.7 1432.0 1144.1 Q1442.4 1139.5 1463.3 1138.2 Q1484.2 1136.8 1505.0 1138.6 Q1525.9 1140.4 1540.5 1141.4 Q1555.2 1142.4 1571.9 1145.6 Q1588.6 1148.7 1599.0 1149.1 Q1609.5 1149.5 1630.3 1157.3 Q1651.2 1165.0 1675.2 1171.5 L1699.2 1177.9 L1699.2 1291.3 L1344.3 1291.3Z"/></clipPath></defs>
<g clip-path="url(#hb3)">
<path d="M1348.4 1181.7 Q1361.0 1160.8 1375.6 1150.4 Q1390.2 1139.9 1416.3 1132.1 Q1442.4 1124.3 1478.9 1124.8 Q1515.5 1125.3 1541.6 1131.8 Q1567.7 1138.3 1599.0 1146.4 Q1630.3 1154.6 1661.7 1162.4 L1693.0 1170.2" fill="none" stroke="#eab0c2" stroke-width="2" />
<path d="M1344.3 1185.9 Q1350.5 1175.4 1354.7 1171.5 Q1358.9 1167.5 1374.5 1165.2 Q1390.2 1162.9 1405.9 1155.8 Q1421.5 1148.7 1432.0 1144.1 Q1442.4 1139.5 1463.3 1138.2 Q1484.2 1136.8 1505.0 1138.6 Q1525.9 1140.4 1540.5 1141.4 Q1555.2 1142.4 1571.9 1145.6 Q1588.6 1148.7 1599.0 1149.1 Q1609.5 1149.5 1630.3 1157.3 Q1651.2 1165.0 1675.2 1171.5 L1699.2 1177.9 L1699.2 1291.3 L1344.3 1291.3Z" fill="#ea4262" />
<g clip-path="url(#ht3)">
<rect x="1344.0" y="1099.0" width="356.0" height="193.0" fill="#fff" filter="url(#hred)" opacity="0.45"/>
<rect x="1344.0" y="1099.0" width="356.0" height="193.0" fill="#fff" filter="url(#hfib)" opacity="0.45"/>
<rect x="1344.0" y="1099.0" width="356.0" height="193.0" fill="#fff" filter="url(#hcrack)" opacity="0.95"/>
<rect x="1344.0" y="1099.0" width="356.0" height="193.0" fill="#fff" filter="url(#hnuc)" opacity="0.35"/>
<path d="M1344.3 1185.9 Q1350.5 1175.4 1354.7 1171.5 Q1358.9 1167.5 1374.5 1165.2 Q1390.2 1162.9 1405.9 1155.8 Q1421.5 1148.7 1432.0 1144.1 Q1442.4 1139.5 1463.3 1138.2 Q1484.2 1136.8 1505.0 1138.6 Q1525.9 1140.4 1540.5 1141.4 Q1555.2 1142.4 1571.9 1145.6 Q1588.6 1148.7 1599.0 1149.1 Q1609.5 1149.5 1630.3 1157.3 Q1651.2 1165.0 1675.2 1171.5 L1699.2 1177.9" fill="none" stroke="#8e3c8e" stroke-width="5.5" opacity="0.9"/>
<path d="M1555.2 1146.2 Q1588.6 1154.6 1599.0 1155.2 Q1609.5 1155.8 1630.3 1163.7 Q1651.2 1171.7 1675.2 1178.8 L1699.2 1185.9" fill="none" stroke="#a04898" stroke-width="6" opacity="0.75"/>
<path d="M1532.2 1138.9 Q1548.9 1150.4 1557.3 1164.0 Q1565.6 1177.5 1575.0 1188.0 Q1584.4 1198.4 1595.9 1208.8 Q1607.4 1219.3 1611.5 1221.9 L1615.7 1224.5" fill="none" stroke="#fbeef2" stroke-width="11" stroke-linecap="round"/>
<path d="M1571.9 1177.5 Q1586.5 1181.7 1593.8 1190.1 Q1601.1 1198.4 1604.8 1204.7 L1608.4 1210.9" fill="none" stroke="#3a1430" stroke-width="2" />
<ellipse cx="1418.4" cy="1191.1" rx="7.1" ry="4.6" fill="#f3c6da" stroke="#8a4a98" stroke-width="2" transform="rotate(0 1418.4 1191.1)"/>
<ellipse cx="1394.4" cy="1206.8" rx="6.7" ry="5.4" fill="#f3c6da" stroke="#8a4a98" stroke-width="2" transform="rotate(0 1394.4 1206.8)"/>
<ellipse cx="1352.6" cy="1227.6" rx="6.3" ry="6.3" fill="#f3c6da" stroke="#8a4a98" stroke-width="2" transform="rotate(0 1352.6 1227.6)"/>
<path d="M1425.7 1277.8 Q1446.6 1263.1 1465.4 1259.5 Q1484.2 1255.8 1500.9 1256.4 L1517.6 1256.9" fill="none" stroke="#a65aa6" stroke-width="2.2" opacity="0.8"/>
</g></g>
<line x1="1414.2" y1="1159.8" x2="1421.9" y2="1179.6" stroke="#111" stroke-width="2.2" />
<path d="M1410.1 1172.1 L1414.2 1159.8 L1425.6 1166.1" fill="none" stroke="#111" stroke-width="2.2" />
<line x1="1448.7" y1="1147.2" x2="1457.0" y2="1166.5" stroke="#111" stroke-width="2.2" />
<path d="M1445.0 1159.8 L1448.7 1147.2 L1460.3 1153.1" fill="none" stroke="#111" stroke-width="2.2" />
<line x1="1481.0" y1="1149.3" x2="1488.8" y2="1168.5" stroke="#111" stroke-width="2.2" />
<path d="M1477.0 1161.8 L1481.0 1149.3 L1492.5 1155.5" fill="none" stroke="#111" stroke-width="2.2" />
<text x="1627.0" y="1277.8" font-size="22" fill="#1a0a10" textLength="66.0" lengthAdjust="spacingAndGlyphs" stroke="#1a0a10" stroke-width="0.55">100 μm</text>
<rect x="1670.0" y="1283.0" width="23.0" height="4.4" fill="#000" />
<rect x="102.3" y="1099.8" width="354.9" height="191.5" fill="none" stroke="#000" stroke-width="2.2"/>
<text x="110.6" y="1128.5" font-size="24.5" textLength="28.5" lengthAdjust="spacingAndGlyphs" stroke="#000" stroke-width="0.55">(1)</text>
<rect x="511.3" y="1099.8" width="354.9" height="191.5" fill="none" stroke="#000" stroke-width="2.2"/>
<text x="519.6" y="1128.5" font-size="24.5" textLength="28.5" lengthAdjust="spacingAndGlyphs" stroke="#000" stroke-width="0.55">(2)</text>
<rect x="920.3" y="1099.8" width="354.9" height="191.5" fill="none" stroke="#000" stroke-width="2.2"/>
<text x="928.6" y="1128.5" font-size="24.5" textLength="28.5" lengthAdjust="spacingAndGlyphs" stroke="#000" stroke-width="0.55">(3)</text>
<rect x="1344.3" y="1099.8" width="354.9" height="191.5" fill="none" stroke="#000" stroke-width="2.2"/>
<text x="1352.6" y="1128.5" font-size="24.5" textLength="28.5" lengthAdjust="spacingAndGlyphs" stroke="#000" stroke-width="0.55">(4)</text>
<!-- Panel J -->
<text x="43.0" y="1341.5" font-size="37" stroke="#000" stroke-width="0.55">J</text>
<line x1="111.0" y1="1378.2" x2="111.0" y2="1601.2" stroke="#000" stroke-width="3.2" />
<line x1="105.5" y1="1599.6" x2="372.0" y2="1599.6" stroke="#000" stroke-width="3.2" />
<line x1="105.5" y1="1599.6" x2="111.0" y2="1599.6" stroke="#000" stroke-width="3" />
<text x="103.5" y="1606.6" font-size="20.5" text-anchor="end" stroke="#000" stroke-width="0.55">0</text>
<line x1="105.5" y1="1526.5" x2="111.0" y2="1526.5" stroke="#000" stroke-width="3" />
<text x="103.5" y="1533.5" font-size="20.5" text-anchor="end" stroke="#000" stroke-width="0.55">2</text>
<line x1="105.5" y1="1453.4" x2="111.0" y2="1453.4" stroke="#000" stroke-width="3" />
<text x="103.5" y="1460.4" font-size="20.5" text-anchor="end" stroke="#000" stroke-width="0.55">4</text>
<line x1="105.5" y1="1380.3" x2="111.0" y2="1380.3" stroke="#000" stroke-width="3" />
<text x="103.5" y="1387.3" font-size="20.5" text-anchor="end" stroke="#000" stroke-width="0.55">6</text>
<rect x="138.3" y="1450.8" width="29.2" height="148.8" fill="#000" />
<line x1="152.9" y1="1397.0" x2="152.9" y2="1451.8" stroke="#000" stroke-width="3.6" />
<line x1="149.5" y1="1398.0" x2="156.3" y2="1398.0" stroke="#000" stroke-width="2.6" />
<rect x="197.4" y="1474.2" width="29.2" height="125.4" fill="#0a7a18" />
<line x1="212.0" y1="1450.8" x2="212.0" y2="1475.2" stroke="#0a7a18" stroke-width="3.6" />
<line x1="208.6" y1="1451.8" x2="215.4" y2="1451.8" stroke="#0a7a18" stroke-width="2.6" />
<rect x="257.0" y="1517.0" width="29.2" height="82.6" fill="#0000fa" />
<line x1="271.6" y1="1476.1" x2="271.6" y2="1518.0" stroke="#0000fa" stroke-width="3.6" />
<line x1="268.2" y1="1477.1" x2="275.0" y2="1477.1" stroke="#0000fa" stroke-width="2.6" />
<rect x="316.6" y="1545.0" width="29.2" height="54.6" fill="#ff0000" />
<line x1="331.2" y1="1513.9" x2="331.2" y2="1546.0" stroke="#e0191e" stroke-width="3.6" />
<line x1="327.8" y1="1514.9" x2="334.6" y2="1514.9" stroke="#e0191e" stroke-width="2.6" />
<text x="150.0" y="1627.0" font-size="23" text-anchor="middle" stroke="#000" stroke-width="0.55">(1)</text>
<text x="210.3" y="1627.0" font-size="23" text-anchor="middle" stroke="#000" stroke-width="0.55">(2)</text>
<text x="270.7" y="1627.0" font-size="23" text-anchor="middle" stroke="#000" stroke-width="0.55">(3)</text>
<text x="329.8" y="1627.0" font-size="23" text-anchor="middle" stroke="#000" stroke-width="0.55">(4)</text>
<line x1="141.8" y1="1387.6" x2="348.2" y2="1387.6" stroke="#000" stroke-width="4" />
<text x="247.3" y="1394.1" font-size="40" text-anchor="middle">*</text>
<text x="81.0" y="1597.5" font-size="22.5" textLength="214.0" lengthAdjust="spacingAndGlyphs" transform="rotate(-90 81.0 1597.5)" stroke="#000" stroke-width="0.55">TNF-<tspan font-family="DejaVu Sans" font-size="21">α</tspan> level (pg/ml)</text>
<!-- Panel K -->
<text x="386.0" y="1341.5" font-size="37" stroke="#000" stroke-width="0.55">K</text>
<line x1="451.3" y1="1377.4" x2="451.3" y2="1600.4" stroke="#000" stroke-width="3.2" />
<line x1="445.5" y1="1598.8" x2="712.6" y2="1598.8" stroke="#000" stroke-width="3.2" />
<line x1="445.5" y1="1598.8" x2="451.3" y2="1598.8" stroke="#000" stroke-width="3" />
<text x="443.5" y="1605.8" font-size="20.5" text-anchor="end" stroke="#000" stroke-width="0.55">0</text>
<line x1="445.5" y1="1555.0" x2="451.3" y2="1555.0" stroke="#000" stroke-width="3" />
<text x="443.5" y="1562.0" font-size="20.5" text-anchor="end" stroke="#000" stroke-width="0.55">20</text>
<line x1="445.5" y1="1511.1" x2="451.3" y2="1511.1" stroke="#000" stroke-width="3" />
<text x="443.5" y="1518.1" font-size="20.5" text-anchor="end" stroke="#000" stroke-width="0.55">40</text>
<line x1="445.5" y1="1467.2" x2="451.3" y2="1467.2" stroke="#000" stroke-width="3" />
<text x="443.5" y="1474.2" font-size="20.5" text-anchor="end" stroke="#000" stroke-width="0.55">60</text>
<line x1="445.5" y1="1423.4" x2="451.3" y2="1423.4" stroke="#000" stroke-width="3" />
<text x="443.5" y="1430.4" font-size="20.5" text-anchor="end" stroke="#000" stroke-width="0.55">80</text>
<line x1="445.5" y1="1379.5" x2="451.3" y2="1379.5" stroke="#000" stroke-width="3" />
<text x="443.5" y="1386.5" font-size="20.5" text-anchor="end" stroke="#000" stroke-width="0.55">100</text>
<rect x="479.0" y="1465.2" width="29.2" height="133.6" fill="#000" />
<line x1="493.6" y1="1417.7" x2="493.6" y2="1466.2" stroke="#000" stroke-width="3.6" />
<line x1="490.2" y1="1418.7" x2="497.0" y2="1418.7" stroke="#000" stroke-width="2.6" />
<rect x="538.2" y="1535.3" width="29.2" height="63.5" fill="#0a7a18" />
<line x1="552.8" y1="1522.5" x2="552.8" y2="1536.3" stroke="#0a7a18" stroke-width="3.6" />
<line x1="549.4" y1="1523.5" x2="556.2" y2="1523.5" stroke="#0a7a18" stroke-width="2.6" />
<rect x="597.8" y="1587.1" width="29.2" height="11.7" fill="#0000fa" />
<line x1="612.4" y1="1579.3" x2="612.4" y2="1588.1" stroke="#0000fa" stroke-width="3.6" />
<line x1="609.0" y1="1580.3" x2="615.8" y2="1580.3" stroke="#0000fa" stroke-width="2.6" />
<rect x="657.7" y="1586.3" width="29.2" height="12.5" fill="#ff0000" />
<line x1="672.3" y1="1580.9" x2="672.3" y2="1587.3" stroke="#e0191e" stroke-width="3.6" />
<line x1="668.9" y1="1581.9" x2="675.7" y2="1581.9" stroke="#e0191e" stroke-width="2.6" />
<text x="492.2" y="1627.0" font-size="23" text-anchor="middle" stroke="#000" stroke-width="0.55">(1)</text>
<text x="549.9" y="1627.0" font-size="23" text-anchor="middle" stroke="#000" stroke-width="0.55">(2)</text>
<text x="611.0" y="1627.0" font-size="23" text-anchor="middle" stroke="#000" stroke-width="0.55">(3)</text>
<text x="671.4" y="1627.0" font-size="23" text-anchor="middle" stroke="#000" stroke-width="0.55">(4)</text>
<line x1="472.8" y1="1394.0" x2="679.5" y2="1394.0" stroke="#000" stroke-width="4" />
<text x="584.0" y="1400.0" font-size="40" text-anchor="middle" textLength="30.0" lengthAdjust="spacingAndGlyphs">**</text>
<text x="406.0" y="1589.0" font-size="22.5" textLength="200.0" lengthAdjust="spacingAndGlyphs" transform="rotate(-90 406.0 1589.0)" stroke="#000" stroke-width="0.55">IL-1<tspan font-family="DejaVu Sans" font-size="21">β</tspan> level (pg/ml)</text>
<!-- Panel L -->
<text x="707.5" y="1341.7" font-size="37" stroke="#000" stroke-width="0.55">L</text>
<text x="762.0" y="1330.0" font-size="25" textLength="90.7" lengthAdjust="spacingAndGlyphs" stroke="#000" stroke-width="0.55">B mode</text>
<text x="883.0" y="1330.0" font-size="25" textLength="164.0" lengthAdjust="spacingAndGlyphs" stroke="#000" stroke-width="0.55">Blood oxygen</text>
<text x="1085.0" y="1330.0" font-size="25" textLength="72.5" lengthAdjust="spacingAndGlyphs" stroke="#000" stroke-width="0.55">Merge</text>
<defs><filter id="spk" x="0" y="0" width="100%" height="100%" color-interpolation-filters="sRGB"><feTurbulence type="fractalNoise" baseFrequency="0.16 0.42" numOctaves="3" seed="2"/><feColorMatrix type="matrix" values="1.5 0 0 0 -0.36  1.5 0 0 0 -0.36  1.5 0 0 0 -0.36  0 0 0 0 1"/></filter><filter id="spk2" x="0" y="0" width="100%" height="100%" color-interpolation-filters="sRGB"><feTurbulence type="fractalNoise" baseFrequency="0.14 0.36" numOctaves="3" seed="7"/><feColorMatrix type="matrix" values="1.6 0 0 0 -0.4  1.6 0 0 0 -0.4  1.6 0 0 0 -0.4  0 0 0 0 1"/></filter><filter id="cy" x="0" y="0" width="100%" height="100%" color-interpolation-filters="sRGB"><feTurbulence type="fractalNoise" baseFrequency="0.09 0.2" numOctaves="2" seed="31"/><feColorMatrix type="matrix" values="0 0 0 0 0.2  0 0 0 0 0.75  0 0 0 0 1  7 0 0 0 -4.2"/></filter><filter id="bluen" x="0" y="0" width="100%" height="100%" color-interpolation-filters="sRGB"><feTurbulence type="fractalNoise" baseFrequency="0.05 0.12" numOctaves="2" seed="12"/><feColorMatrix type="matrix" values="0 0 0 0 0.04  0 0 0 0 0.16  0 0 0 0 0.98  5 0 0 0 -2.25"/></filter><filter id="bl3" x="-10%" y="-40%" width="120%" height="180%" color-interpolation-filters="sRGB"><feGaussianBlur stdDeviation="1.6"/></filter><linearGradient id="cbar" x1="0" y1="0" x2="0" y2="1"><stop offset="0" stop-color="#e0202a"/><stop offset="0.07" stop-color="#cf2431"/><stop offset="0.13" stop-color="#a2444c"/><stop offset="0.2" stop-color="#8b8188"/><stop offset="0.27" stop-color="#7d9da2"/><stop offset="0.38" stop-color="#22dfe2"/><stop offset="0.5" stop-color="#1070e2"/><stop offset="0.65" stop-color="#1028c8"/><stop offset="0.8" stop-color="#0a1480"/><stop offset="0.9" stop-color="#050530"/><stop offset="1" stop-color="#000"/></linearGradient><linearGradient id="fadeL" x1="0" y1="0" x2="0" y2="1"><stop offset="0" stop-color="#000" stop-opacity="0.1"/><stop offset="1" stop-color="#000" stop-opacity="0.55"/></linearGradient></defs>
<defs><clipPath id="lt0"><rect x="734.6" y="1336.6" width="149.5" height="70.4"/></clipPath>
<clipPath id="lb0"><path d="M734.6 1383.0 Q760.0 1371.0 777.2 1366.5 Q794.4 1362.0 807.1 1364.2 Q819.9 1366.5 834.9 1371.8 Q849.8 1377.0 867.2 1380.0 L884.6 1383.0 L884.6 1396.4 Q849.8 1393.4 834.9 1389.7 Q819.9 1386.0 807.9 1384.5 Q795.9 1383.0 778.0 1384.5 Q760.0 1386.0 747.3 1391.2 L734.6 1396.4Z"/></clipPath><clipPath id="lu0"><path d="M734.6 1383.0 Q760.0 1371.0 777.2 1366.5 Q794.4 1362.0 807.1 1364.2 Q819.9 1366.5 834.9 1371.8 Q849.8 1377.0 867.2 1380.0 L884.6 1383.0 L884.1 1407.0 L734.6 1407.0Z"/></clipPath></defs>
<g clip-path="url(#lt0)">
<rect x="734.6" y="1336.6" width="149.5" height="70.4" fill="#020204" />
<g clip-path="url(#lu0)">
<rect x="734.6" y="1336.6" width="149.5" height="70.4" fill="#fff" filter="url(#spk)"/>
<rect x="734.6" y="1336.6" width="149.5" height="70.4" fill="url(#fadeL)" />
</g>
<path d="M734.6 1383.0 Q760.0 1371.0 777.2 1366.5 Q794.4 1362.0 807.1 1364.2 Q819.9 1366.5 834.9 1371.8 Q849.8 1377.0 867.2 1380.0 L884.6 1383.0 L884.6 1396.4 Q849.8 1393.4 834.9 1389.7 Q819.9 1386.0 807.9 1384.5 Q795.9 1383.0 778.0 1384.5 Q760.0 1386.0 747.3 1391.2 L734.6 1396.4Z" fill="#b8b8b8" opacity="0.22"/>
<path d="M734.6 1380.0 Q760.0 1368.0 777.2 1363.5 Q794.4 1359.0 807.1 1361.2 Q819.9 1363.5 834.9 1368.8 Q849.8 1374.0 867.2 1377.0 L884.6 1380.0" stroke="#666" stroke-width="3" fill="none" opacity="0.5" filter="url(#bl3)"/>
<path d="M734.6 1383.0 Q760.0 1371.0 777.2 1366.5 Q794.4 1362.0 807.1 1364.2 Q819.9 1366.5 834.9 1371.8 Q849.8 1377.0 867.2 1380.0 L884.6 1383.0" stroke="#f4bd30" stroke-width="2.5" fill="none" stroke-dasharray="6.5 2.8"/>
<path d="M734.6 1396.4 Q760.0 1386.0 778.0 1384.5 Q795.9 1383.0 807.9 1384.5 Q819.9 1386.0 834.9 1389.7 Q849.8 1393.4 867.2 1394.9 L884.6 1396.4" stroke="#f4bd30" stroke-width="2.5" fill="none" stroke-dasharray="6.5 2.8"/>
<text x="737.1" y="1401.5" font-size="24" fill="#d8211d" textLength="27.0" lengthAdjust="spacingAndGlyphs" stroke="#d8211d" stroke-width="0.55">(1)</text>
</g>
<defs><clipPath id="lt1"><rect x="888.0" y="1336.6" width="149.6" height="70.4"/></clipPath>
<clipPath id="lb1"><path d="M888.0 1383.0 Q913.4 1371.0 930.6 1366.5 Q947.8 1362.0 960.5 1364.2 Q973.3 1366.5 988.2 1371.8 Q1003.2 1377.0 1020.6 1380.0 L1038.0 1383.0 L1038.0 1396.4 Q1003.2 1393.4 988.2 1389.7 Q973.3 1386.0 961.3 1384.5 Q949.3 1383.0 931.3 1384.5 Q913.4 1386.0 900.7 1391.2 L888.0 1396.4Z"/></clipPath><clipPath id="lu1"><path d="M888.0 1383.0 Q913.4 1371.0 930.6 1366.5 Q947.8 1362.0 960.5 1364.2 Q973.3 1366.5 988.2 1371.8 Q1003.2 1377.0 1020.6 1380.0 L1038.0 1383.0 L1037.6 1407.0 L888.0 1407.0Z"/></clipPath></defs>
<g clip-path="url(#lt1)">
<rect x="888.0" y="1336.6" width="149.6" height="70.4" fill="#020204" />
<g clip-path="url(#lb1)" opacity="1">
<path d="M888.0 1383.0 Q913.4 1371.0 930.6 1366.5 Q947.8 1362.0 960.5 1364.2 Q973.3 1366.5 988.2 1371.8 Q1003.2 1377.0 1020.6 1380.0 L1038.0 1383.0 L1038.0 1396.4 Q1003.2 1393.4 988.2 1389.7 Q973.3 1386.0 961.3 1384.5 Q949.3 1383.0 931.3 1384.5 Q913.4 1386.0 900.7 1391.2 L888.0 1396.4Z" fill="#0a1ea8" opacity="0.22" filter="url(#bl3)"/>
<rect x="888.0" y="1336.6" width="149.6" height="70.4" fill="#fff" filter="url(#bluen)" opacity="0.62"/>
<rect x="888.0" y="1336.6" width="149.6" height="70.4" fill="#fff" filter="url(#cy)" opacity="0.85"/>
</g>
<ellipse cx="900.0" cy="1396.6" rx="10" ry="3" fill="#0c2ab8" opacity="0.6" filter="url(#bl3)"/>
<path d="M888.0 1383.0 Q913.4 1371.0 930.6 1366.5 Q947.8 1362.0 960.5 1364.2 Q973.3 1366.5 988.2 1371.8 Q1003.2 1377.0 1020.6 1380.0 L1038.0 1383.0" stroke="#f4bd30" stroke-width="2.5" fill="none" stroke-dasharray="6.5 2.8"/>
<path d="M888.0 1396.4 Q913.4 1386.0 931.3 1384.5 Q949.3 1383.0 961.3 1384.5 Q973.3 1386.0 988.2 1389.7 Q1003.2 1393.4 1020.6 1394.9 L1038.0 1396.4" stroke="#f4bd30" stroke-width="2.5" fill="none" stroke-dasharray="6.5 2.8"/>
</g>
<defs><clipPath id="lt2"><rect x="1040.2" y="1336.6" width="148.6" height="70.4"/></clipPath>
<clipPath id="lb2"><path d="M1040.2 1383.0 Q1065.6 1371.0 1082.8 1366.5 Q1100.0 1362.0 1112.8 1364.2 Q1125.5 1366.5 1140.5 1371.8 Q1155.4 1377.0 1172.8 1380.0 L1190.2 1383.0 L1190.2 1396.4 Q1155.4 1393.4 1140.5 1389.7 Q1125.5 1386.0 1113.5 1384.5 Q1101.5 1383.0 1083.6 1384.5 Q1065.6 1386.0 1052.9 1391.2 L1040.2 1396.4Z"/></clipPath><clipPath id="lu2"><path d="M1040.2 1383.0 Q1065.6 1371.0 1082.8 1366.5 Q1100.0 1362.0 1112.8 1364.2 Q1125.5 1366.5 1140.5 1371.8 Q1155.4 1377.0 1172.8 1380.0 L1190.2 1383.0 L1188.8 1407.0 L1040.2 1407.0Z"/></clipPath></defs>
<g clip-path="url(#lt2)">
<rect x="1040.2" y="1336.6" width="148.6" height="70.4" fill="#020204" />
<g clip-path="url(#lu2)">
<rect x="1040.2" y="1336.6" width="148.6" height="70.4" fill="#fff" filter="url(#spk)"/>
<rect x="1040.2" y="1336.6" width="148.6" height="70.4" fill="url(#fadeL)" />
</g>
<path d="M1040.2 1383.0 Q1065.6 1371.0 1082.8 1366.5 Q1100.0 1362.0 1112.8 1364.2 Q1125.5 1366.5 1140.5 1371.8 Q1155.4 1377.0 1172.8 1380.0 L1190.2 1383.0 L1190.2 1396.4 Q1155.4 1393.4 1140.5 1389.7 Q1125.5 1386.0 1113.5 1384.5 Q1101.5 1383.0 1083.6 1384.5 Q1065.6 1386.0 1052.9 1391.2 L1040.2 1396.4Z" fill="#b8b8b8" opacity="0.22"/>
<path d="M1040.2 1380.0 Q1065.6 1368.0 1082.8 1363.5 Q1100.0 1359.0 1112.8 1361.2 Q1125.5 1363.5 1140.5 1368.8 Q1155.4 1374.0 1172.8 1377.0 L1190.2 1380.0" stroke="#666" stroke-width="3" fill="none" opacity="0.5" filter="url(#bl3)"/>
<g clip-path="url(#lb2)" opacity="0.82">
<path d="M1040.2 1383.0 Q1065.6 1371.0 1082.8 1366.5 Q1100.0 1362.0 1112.8 1364.2 Q1125.5 1366.5 1140.5 1371.8 Q1155.4 1377.0 1172.8 1380.0 L1190.2 1383.0 L1190.2 1396.4 Q1155.4 1393.4 1140.5 1389.7 Q1125.5 1386.0 1113.5 1384.5 Q1101.5 1383.0 1083.6 1384.5 Q1065.6 1386.0 1052.9 1391.2 L1040.2 1396.4Z" fill="#0a1ea8" opacity="0.22" filter="url(#bl3)"/>
<rect x="1040.2" y="1336.6" width="148.6" height="70.4" fill="#fff" filter="url(#bluen)" opacity="0.62"/>
<rect x="1040.2" y="1336.6" width="148.6" height="70.4" fill="#fff" filter="url(#cy)" opacity="0.85"/>
</g>
<path d="M1040.2 1383.0 Q1065.6 1371.0 1082.8 1366.5 Q1100.0 1362.0 1112.8 1364.2 Q1125.5 1366.5 1140.5 1371.8 Q1155.4 1377.0 1172.8 1380.0 L1190.2 1383.0" stroke="#f4bd30" stroke-width="2.5" fill="none" stroke-dasharray="6.5 2.8"/>
<path d="M1040.2 1396.4 Q1065.6 1386.0 1083.6 1384.5 Q1101.5 1383.0 1113.5 1384.5 Q1125.5 1386.0 1140.5 1389.7 Q1155.4 1393.4 1172.8 1394.9 L1190.2 1396.4" stroke="#f4bd30" stroke-width="2.5" fill="none" stroke-dasharray="6.5 2.8"/>
</g>
<defs><clipPath id="lt3"><rect x="734.6" y="1410.4" width="149.5" height="69.8"/></clipPath>
<clipPath id="lb3"><path d="M734.6 1447.2 Q748.1 1438.2 761.5 1436.0 Q775.0 1433.7 794.5 1434.5 Q813.9 1435.2 824.4 1433.0 Q834.8 1430.7 859.7 1429.6 L884.6 1428.4 L884.6 1449.3 Q819.9 1448.1 797.5 1448.4 Q775.0 1448.7 761.5 1451.0 Q748.1 1453.2 741.4 1457.0 L734.6 1460.7Z"/></clipPath><clipPath id="lu3"><path d="M734.6 1447.2 Q748.1 1438.2 761.5 1436.0 Q775.0 1433.7 794.5 1434.5 Q813.9 1435.2 824.4 1433.0 Q834.8 1430.7 859.7 1429.6 L884.6 1428.4 L884.1 1480.2 L734.6 1480.2Z"/></clipPath></defs>
<g clip-path="url(#lt3)">
<rect x="734.6" y="1410.4" width="149.5" height="69.8" fill="#020204" />
<g clip-path="url(#lu3)">
<rect x="734.6" y="1410.4" width="149.5" height="69.8" fill="#fff" filter="url(#spk2)"/>
<rect x="734.6" y="1410.4" width="149.5" height="69.8" fill="url(#fadeL)" />
</g>
<path d="M734.6 1447.2 Q748.1 1438.2 761.5 1436.0 Q775.0 1433.7 794.5 1434.5 Q813.9 1435.2 824.4 1433.0 Q834.8 1430.7 859.7 1429.6 L884.6 1428.4 L884.6 1449.3 Q819.9 1448.1 797.5 1448.4 Q775.0 1448.7 761.5 1451.0 Q748.1 1453.2 741.4 1457.0 L734.6 1460.7Z" fill="#b8b8b8" opacity="0.22"/>
<path d="M734.6 1444.2 Q748.1 1435.2 761.5 1433.0 Q775.0 1430.7 794.5 1431.5 Q813.9 1432.2 824.4 1430.0 Q834.8 1427.7 859.7 1426.6 L884.6 1425.4" stroke="#666" stroke-width="3" fill="none" opacity="0.5" filter="url(#bl3)"/>
<path d="M734.6 1447.2 Q748.1 1438.2 761.5 1436.0 Q775.0 1433.7 794.5 1434.5 Q813.9 1435.2 824.4 1433.0 Q834.8 1430.7 859.7 1429.6 L884.6 1428.4" stroke="#f4bd30" stroke-width="2.5" fill="none" stroke-dasharray="6.5 2.8"/>
<path d="M734.6 1460.7 Q748.1 1453.2 761.5 1451.0 Q775.0 1448.7 797.5 1448.4 Q819.9 1448.1 852.2 1448.7 L884.6 1449.3" stroke="#f4bd30" stroke-width="2.5" fill="none" stroke-dasharray="6.5 2.8"/>
<text x="737.1" y="1474.7" font-size="24" fill="#d8211d" textLength="27.0" lengthAdjust="spacingAndGlyphs" stroke="#d8211d" stroke-width="0.55">(2)</text>
</g>
<defs><clipPath id="lt4"><rect x="888.0" y="1410.4" width="149.6" height="69.8"/></clipPath>
<clipPath id="lb4"><path d="M888.0 1447.2 Q901.5 1438.2 915.0 1436.0 Q928.4 1433.7 947.8 1434.5 Q967.3 1435.2 977.8 1433.0 Q988.2 1430.7 1013.1 1429.6 L1038.0 1428.4 L1038.0 1449.3 Q973.3 1448.1 950.8 1448.4 Q928.4 1448.7 915.0 1451.0 Q901.5 1453.2 894.8 1457.0 L888.0 1460.7Z"/></clipPath><clipPath id="lu4"><path d="M888.0 1447.2 Q901.5 1438.2 915.0 1436.0 Q928.4 1433.7 947.8 1434.5 Q967.3 1435.2 977.8 1433.0 Q988.2 1430.7 1013.1 1429.6 L1038.0 1428.4 L1037.6 1480.2 L888.0 1480.2Z"/></clipPath></defs>
<g clip-path="url(#lt4)">
<rect x="888.0" y="1410.4" width="149.6" height="69.8" fill="#020204" />
<g clip-path="url(#lb4)" opacity="1">
<path d="M888.0 1447.2 Q901.5 1438.2 915.0 1436.0 Q928.4 1433.7 947.8 1434.5 Q967.3 1435.2 977.8 1433.0 Q988.2 1430.7 1013.1 1429.6 L1038.0 1428.4 L1038.0 1449.3 Q973.3 1448.1 950.8 1448.4 Q928.4 1448.7 915.0 1451.0 Q901.5 1453.2 894.8 1457.0 L888.0 1460.7Z" fill="#0b22b8" opacity="0.22" filter="url(#bl3)"/>
<rect x="888.0" y="1410.4" width="149.6" height="69.8" fill="#fff" filter="url(#bluen)" opacity="0.62"/>
<rect x="888.0" y="1410.4" width="149.6" height="69.8" fill="#fff" filter="url(#cy)" opacity="0.85"/>
</g>
<ellipse cx="900.0" cy="1470.4" rx="10" ry="3" fill="#0c2ab8" opacity="0.6" filter="url(#bl3)"/>
<path d="M888.0 1447.2 Q901.5 1438.2 915.0 1436.0 Q928.4 1433.7 947.8 1434.5 Q967.3 1435.2 977.8 1433.0 Q988.2 1430.7 1013.1 1429.6 L1038.0 1428.4" stroke="#f4bd30" stroke-width="2.5" fill="none" stroke-dasharray="6.5 2.8"/>
<path d="M888.0 1460.7 Q901.5 1453.2 915.0 1451.0 Q928.4 1448.7 950.8 1448.4 Q973.3 1448.1 1005.6 1448.7 L1038.0 1449.3" stroke="#f4bd30" stroke-width="2.5" fill="none" stroke-dasharray="6.5 2.8"/>
</g>
<defs><clipPath id="lt5"><rect x="1040.2" y="1410.4" width="148.6" height="69.8"/></clipPath>
<clipPath id="lb5"><path d="M1040.2 1447.2 Q1053.7 1438.2 1067.2 1436.0 Q1080.6 1433.7 1100.1 1434.5 Q1119.5 1435.2 1130.0 1433.0 Q1140.4 1430.7 1165.3 1429.6 L1190.2 1428.4 L1190.2 1449.3 Q1125.5 1448.1 1103.1 1448.4 Q1080.6 1448.7 1067.2 1451.0 Q1053.7 1453.2 1047.0 1457.0 L1040.2 1460.7Z"/></clipPath><clipPath id="lu5"><path d="M1040.2 1447.2 Q1053.7 1438.2 1067.2 1436.0 Q1080.6 1433.7 1100.1 1434.5 Q1119.5 1435.2 1130.0 1433.0 Q1140.4 1430.7 1165.3 1429.6 L1190.2 1428.4 L1188.8 1480.2 L1040.2 1480.2Z"/></clipPath></defs>
<g clip-path="url(#lt5)">
<rect x="1040.2" y="1410.4" width="148.6" height="69.8" fill="#020204" />
<g clip-path="url(#lu5)">
<rect x="1040.2" y="1410.4" width="148.6" height="69.8" fill="#fff" filter="url(#spk2)"/>
<rect x="1040.2" y="1410.4" width="148.6" height="69.8" fill="url(#fadeL)" />
</g>
<path d="M1040.2 1447.2 Q1053.7 1438.2 1067.2 1436.0 Q1080.6 1433.7 1100.1 1434.5 Q1119.5 1435.2 1130.0 1433.0 Q1140.4 1430.7 1165.3 1429.6 L1190.2 1428.4 L1190.2 1449.3 Q1125.5 1448.1 1103.1 1448.4 Q1080.6 1448.7 1067.2 1451.0 Q1053.7 1453.2 1047.0 1457.0 L1040.2 1460.7Z" fill="#b8b8b8" opacity="0.22"/>
<path d="M1040.2 1444.2 Q1053.7 1435.2 1067.2 1433.0 Q1080.6 1430.7 1100.1 1431.5 Q1119.5 1432.2 1130.0 1430.0 Q1140.4 1427.7 1165.3 1426.6 L1190.2 1425.4" stroke="#666" stroke-width="3" fill="none" opacity="0.5" filter="url(#bl3)"/>
<g clip-path="url(#lb5)" opacity="0.82">
<path d="M1040.2 1447.2 Q1053.7 1438.2 1067.2 1436.0 Q1080.6 1433.7 1100.1 1434.5 Q1119.5 1435.2 1130.0 1433.0 Q1140.4 1430.7 1165.3 1429.6 L1190.2 1428.4 L1190.2 1449.3 Q1125.5 1448.1 1103.1 1448.4 Q1080.6 1448.7 1067.2 1451.0 Q1053.7 1453.2 1047.0 1457.0 L1040.2 1460.7Z" fill="#0b22b8" opacity="0.22" filter="url(#bl3)"/>
<rect x="1040.2" y="1410.4" width="148.6" height="69.8" fill="#fff" filter="url(#bluen)" opacity="0.62"/>
<rect x="1040.2" y="1410.4" width="148.6" height="69.8" fill="#fff" filter="url(#cy)" opacity="0.85"/>
</g>
<path d="M1040.2 1447.2 Q1053.7 1438.2 1067.2 1436.0 Q1080.6 1433.7 1100.1 1434.5 Q1119.5 1435.2 1130.0 1433.0 Q1140.4 1430.7 1165.3 1429.6 L1190.2 1428.4" stroke="#f4bd30" stroke-width="2.5" fill="none" stroke-dasharray="6.5 2.8"/>
<path d="M1040.2 1460.7 Q1053.7 1453.2 1067.2 1451.0 Q1080.6 1448.7 1103.1 1448.4 Q1125.5 1448.1 1157.8 1448.7 L1190.2 1449.3" stroke="#f4bd30" stroke-width="2.5" fill="none" stroke-dasharray="6.5 2.8"/>
</g>
<defs><clipPath id="lt6"><rect x="734.6" y="1484.4" width="149.5" height="69.9"/></clipPath>
<clipPath id="lb6"><path d="M734.6 1502.4 Q760.0 1505.4 775.0 1508.4 Q789.9 1511.4 804.9 1512.4 Q819.9 1513.4 834.9 1512.8 Q849.8 1512.2 867.2 1515.5 L884.6 1518.8 L884.6 1533.2 Q849.8 1531.4 834.9 1529.6 Q819.9 1527.8 804.9 1527.1 Q789.9 1526.3 775.0 1524.1 Q760.0 1521.8 747.3 1518.8 L734.6 1515.8Z"/></clipPath><clipPath id="lu6"><path d="M734.6 1502.4 Q760.0 1505.4 775.0 1508.4 Q789.9 1511.4 804.9 1512.4 Q819.9 1513.4 834.9 1512.8 Q849.8 1512.2 867.2 1515.5 L884.6 1518.8 L884.1 1554.3 L734.6 1554.3Z"/></clipPath></defs>
<g clip-path="url(#lt6)">
<rect x="734.6" y="1484.4" width="149.5" height="69.9" fill="#020204" />
<g clip-path="url(#lu6)">
<rect x="734.6" y="1484.4" width="149.5" height="69.9" fill="#fff" filter="url(#spk)"/>
<rect x="734.6" y="1484.4" width="149.5" height="69.9" fill="url(#fadeL)" />
</g>
<path d="M734.6 1502.4 Q760.0 1505.4 775.0 1508.4 Q789.9 1511.4 804.9 1512.4 Q819.9 1513.4 834.9 1512.8 Q849.8 1512.2 867.2 1515.5 L884.6 1518.8 L884.6 1533.2 Q849.8 1531.4 834.9 1529.6 Q819.9 1527.8 804.9 1527.1 Q789.9 1526.3 775.0 1524.1 Q760.0 1521.8 747.3 1518.8 L734.6 1515.8Z" fill="#b8b8b8" opacity="0.22"/>
<path d="M734.6 1499.4 Q760.0 1502.4 775.0 1505.4 Q789.9 1508.4 804.9 1509.4 Q819.9 1510.4 834.9 1509.8 Q849.8 1509.2 867.2 1512.5 L884.6 1515.8" stroke="#666" stroke-width="3" fill="none" opacity="0.5" filter="url(#bl3)"/>
<path d="M734.6 1502.4 Q760.0 1505.4 775.0 1508.4 Q789.9 1511.4 804.9 1512.4 Q819.9 1513.4 834.9 1512.8 Q849.8 1512.2 867.2 1515.5 L884.6 1518.8" stroke="#f4bd30" stroke-width="2.5" fill="none" stroke-dasharray="6.5 2.8"/>
<path d="M734.6 1515.8 Q760.0 1521.8 775.0 1524.1 Q789.9 1526.3 804.9 1527.1 Q819.9 1527.8 834.9 1529.6 Q849.8 1531.4 867.2 1532.3 L884.6 1533.2" stroke="#f4bd30" stroke-width="2.5" fill="none" stroke-dasharray="6.5 2.8"/>
<text x="737.1" y="1548.8" font-size="24" fill="#d8211d" textLength="27.0" lengthAdjust="spacingAndGlyphs" stroke="#d8211d" stroke-width="0.55">(3)</text>
</g>
<defs><clipPath id="lt7"><rect x="888.0" y="1484.4" width="149.6" height="69.9"/></clipPath>
<clipPath id="lb7"><path d="M888.0 1502.4 Q913.4 1505.4 928.3 1508.4 Q943.3 1511.4 958.3 1512.4 Q973.3 1513.4 988.2 1512.8 Q1003.2 1512.2 1020.6 1515.5 L1038.0 1518.8 L1038.0 1533.2 Q1003.2 1531.4 988.2 1529.6 Q973.3 1527.8 958.3 1527.1 Q943.3 1526.3 928.3 1524.1 Q913.4 1521.8 900.7 1518.8 L888.0 1515.8Z"/></clipPath><clipPath id="lu7"><path d="M888.0 1502.4 Q913.4 1505.4 928.3 1508.4 Q943.3 1511.4 958.3 1512.4 Q973.3 1513.4 988.2 1512.8 Q1003.2 1512.2 1020.6 1515.5 L1038.0 1518.8 L1037.6 1554.3 L888.0 1554.3Z"/></clipPath></defs>
<g clip-path="url(#lt7)">
<rect x="888.0" y="1484.4" width="149.6" height="69.9" fill="#020204" />
<g clip-path="url(#lb7)" opacity="1">
<path d="M888.0 1502.4 Q913.4 1505.4 928.3 1508.4 Q943.3 1511.4 958.3 1512.4 Q973.3 1513.4 988.2 1512.8 Q1003.2 1512.2 1020.6 1515.5 L1038.0 1518.8 L1038.0 1533.2 Q1003.2 1531.4 988.2 1529.6 Q973.3 1527.8 958.3 1527.1 Q943.3 1526.3 928.3 1524.1 Q913.4 1521.8 900.7 1518.8 L888.0 1515.8Z" fill="#1030d0" opacity="0.7" filter="url(#bl3)"/>
<rect x="888.0" y="1484.4" width="149.6" height="69.9" fill="#fff" filter="url(#bluen)" opacity="0.9"/>
<rect x="888.0" y="1484.4" width="149.6" height="69.9" fill="#fff" filter="url(#cy)" opacity="0.85"/>
</g>
<ellipse cx="970.3" cy="1544.4" rx="14" ry="4" fill="#1440e8" opacity="0.8" filter="url(#bl3)"/>
<ellipse cx="1007.7" cy="1544.4" rx="10" ry="4" fill="#1440e8" opacity="0.8" filter="url(#bl3)"/>
<ellipse cx="1003.2" cy="1524.4" rx="22" ry="3.5" fill="#1440e8" opacity="0.8" filter="url(#bl3)"/>
<ellipse cx="1004.7" cy="1517.4" rx="4" ry="1.6" fill="#e02020" opacity="1"/>
<path d="M888.0 1502.4 Q913.4 1505.4 928.3 1508.4 Q943.3 1511.4 958.3 1512.4 Q973.3 1513.4 988.2 1512.8 Q1003.2 1512.2 1020.6 1515.5 L1038.0 1518.8" stroke="#f4bd30" stroke-width="2.5" fill="none" stroke-dasharray="6.5 2.8"/>
<path d="M888.0 1515.8 Q913.4 1521.8 928.3 1524.1 Q943.3 1526.3 958.3 1527.1 Q973.3 1527.8 988.2 1529.6 Q1003.2 1531.4 1020.6 1532.3 L1038.0 1533.2" stroke="#f4bd30" stroke-width="2.5" fill="none" stroke-dasharray="6.5 2.8"/>
</g>
<defs><clipPath id="lt8"><rect x="1040.2" y="1484.4" width="148.6" height="69.9"/></clipPath>
<clipPath id="lb8"><path d="M1040.2 1502.4 Q1065.6 1505.4 1080.6 1508.4 Q1095.5 1511.4 1110.5 1512.4 Q1125.5 1513.4 1140.5 1512.8 Q1155.4 1512.2 1172.8 1515.5 L1190.2 1518.8 L1190.2 1533.2 Q1155.4 1531.4 1140.5 1529.6 Q1125.5 1527.8 1110.5 1527.1 Q1095.5 1526.3 1080.6 1524.1 Q1065.6 1521.8 1052.9 1518.8 L1040.2 1515.8Z"/></clipPath><clipPath id="lu8"><path d="M1040.2 1502.4 Q1065.6 1505.4 1080.6 1508.4 Q1095.5 1511.4 1110.5 1512.4 Q1125.5 1513.4 1140.5 1512.8 Q1155.4 1512.2 1172.8 1515.5 L1190.2 1518.8 L1188.8 1554.3 L1040.2 1554.3Z"/></clipPath></defs>
<g clip-path="url(#lt8)">
<rect x="1040.2" y="1484.4" width="148.6" height="69.9" fill="#020204" />
<g clip-path="url(#lu8)">
<rect x="1040.2" y="1484.4" width="148.6" height="69.9" fill="#fff" filter="url(#spk)"/>
<rect x="1040.2" y="1484.4" width="148.6" height="69.9" fill="url(#fadeL)" />
</g>
<path d="M1040.2 1502.4 Q1065.6 1505.4 1080.6 1508.4 Q1095.5 1511.4 1110.5 1512.4 Q1125.5 1513.4 1140.5 1512.8 Q1155.4 1512.2 1172.8 1515.5 L1190.2 1518.8 L1190.2 1533.2 Q1155.4 1531.4 1140.5 1529.6 Q1125.5 1527.8 1110.5 1527.1 Q1095.5 1526.3 1080.6 1524.1 Q1065.6 1521.8 1052.9 1518.8 L1040.2 1515.8Z" fill="#b8b8b8" opacity="0.22"/>
<path d="M1040.2 1499.4 Q1065.6 1502.4 1080.6 1505.4 Q1095.5 1508.4 1110.5 1509.4 Q1125.5 1510.4 1140.5 1509.8 Q1155.4 1509.2 1172.8 1512.5 L1190.2 1515.8" stroke="#666" stroke-width="3" fill="none" opacity="0.5" filter="url(#bl3)"/>
<g clip-path="url(#lb8)" opacity="0.82">
<path d="M1040.2 1502.4 Q1065.6 1505.4 1080.6 1508.4 Q1095.5 1511.4 1110.5 1512.4 Q1125.5 1513.4 1140.5 1512.8 Q1155.4 1512.2 1172.8 1515.5 L1190.2 1518.8 L1190.2 1533.2 Q1155.4 1531.4 1140.5 1529.6 Q1125.5 1527.8 1110.5 1527.1 Q1095.5 1526.3 1080.6 1524.1 Q1065.6 1521.8 1052.9 1518.8 L1040.2 1515.8Z" fill="#1030d0" opacity="0.7" filter="url(#bl3)"/>
<rect x="1040.2" y="1484.4" width="148.6" height="69.9" fill="#fff" filter="url(#bluen)" opacity="0.9"/>
<rect x="1040.2" y="1484.4" width="148.6" height="69.9" fill="#fff" filter="url(#cy)" opacity="0.85"/>
</g>
<ellipse cx="1121.9" cy="1544.4" rx="14" ry="4" fill="#1440e8" opacity="0.656" filter="url(#bl3)"/>
<ellipse cx="1159.1" cy="1544.4" rx="10" ry="4" fill="#1440e8" opacity="0.656" filter="url(#bl3)"/>
<ellipse cx="1154.6" cy="1524.4" rx="22" ry="3.5" fill="#1440e8" opacity="0.656" filter="url(#bl3)"/>
<ellipse cx="1156.1" cy="1517.4" rx="4" ry="1.6" fill="#e02020" opacity="0.82"/>
<path d="M1040.2 1502.4 Q1065.6 1505.4 1080.6 1508.4 Q1095.5 1511.4 1110.5 1512.4 Q1125.5 1513.4 1140.5 1512.8 Q1155.4 1512.2 1172.8 1515.5 L1190.2 1518.8" stroke="#f4bd30" stroke-width="2.5" fill="none" stroke-dasharray="6.5 2.8"/>
<path d="M1040.2 1515.8 Q1065.6 1521.8 1080.6 1524.1 Q1095.5 1526.3 1110.5 1527.1 Q1125.5 1527.8 1140.5 1529.6 Q1155.4 1531.4 1172.8 1532.3 L1190.2 1533.2" stroke="#f4bd30" stroke-width="2.5" fill="none" stroke-dasharray="6.5 2.8"/>
</g>
<defs><clipPath id="lt9"><rect x="734.6" y="1559.2" width="149.5" height="70.0"/></clipPath>
<clipPath id="lb9"><path d="M734.6 1560.1 Q754.0 1560.7 764.5 1565.2 Q775.0 1569.7 790.0 1576.4 Q804.9 1583.1 819.9 1586.9 Q834.8 1590.6 846.8 1596.6 Q858.7 1602.6 871.7 1613.1 L884.6 1623.5 L854.3 1629.7 Q846.8 1611.6 840.8 1605.6 Q834.8 1599.6 827.4 1603.4 Q819.9 1607.1 809.4 1608.2 Q798.9 1609.2 791.5 1607.4 Q784.0 1605.6 772.0 1598.1 Q760.0 1590.6 747.3 1586.9 L734.6 1583.1Z"/></clipPath><clipPath id="lu9"><path d="M734.6 1560.1 Q754.0 1560.7 764.5 1565.2 Q775.0 1569.7 790.0 1576.4 Q804.9 1583.1 819.9 1586.9 Q834.8 1590.6 846.8 1596.6 Q858.7 1602.6 871.7 1613.1 L884.6 1623.5 L884.1 1629.2 L734.6 1629.2Z"/></clipPath></defs>
<g clip-path="url(#lt9)">
<rect x="734.6" y="1559.2" width="149.5" height="70.0" fill="#020204" />
<g clip-path="url(#lu9)">
<rect x="734.6" y="1559.2" width="149.5" height="70.0" fill="#fff" filter="url(#spk2)"/>
<rect x="734.6" y="1559.2" width="149.5" height="70.0" fill="url(#fadeL)" />
</g>
<path d="M734.6 1560.1 Q754.0 1560.7 764.5 1565.2 Q775.0 1569.7 790.0 1576.4 Q804.9 1583.1 819.9 1586.9 Q834.8 1590.6 846.8 1596.6 Q858.7 1602.6 871.7 1613.1 L884.6 1623.5 L854.3 1629.7 Q846.8 1611.6 840.8 1605.6 Q834.8 1599.6 827.4 1603.4 Q819.9 1607.1 809.4 1608.2 Q798.9 1609.2 791.5 1607.4 Q784.0 1605.6 772.0 1598.1 Q760.0 1590.6 747.3 1586.9 L734.6 1583.1Z" fill="#b8b8b8" opacity="0.22"/>
<path d="M734.6 1557.1 Q754.0 1557.7 764.5 1562.2 Q775.0 1566.7 790.0 1573.4 Q804.9 1580.1 819.9 1583.9 Q834.8 1587.6 846.8 1593.6 Q858.7 1599.6 871.7 1610.1 L884.6 1620.5" stroke="#666" stroke-width="3" fill="none" opacity="0.5" filter="url(#bl3)"/>
<path d="M734.6 1560.1 Q754.0 1560.7 764.5 1565.2 Q775.0 1569.7 790.0 1576.4 Q804.9 1583.1 819.9 1586.9 Q834.8 1590.6 846.8 1596.6 Q858.7 1602.6 871.7 1613.1 L884.6 1623.5" stroke="#f4bd30" stroke-width="2.5" fill="none" stroke-dasharray="6.5 2.8"/>
<path d="M734.6 1583.1 Q760.0 1590.6 772.0 1598.1 Q784.0 1605.6 791.5 1607.4 Q798.9 1609.2 809.4 1608.2 Q819.9 1607.1 827.4 1603.4 Q834.8 1599.6 840.8 1605.6 Q846.8 1611.6 850.6 1620.7 L854.3 1629.7" stroke="#f4bd30" stroke-width="2.5" fill="none" stroke-dasharray="6.5 2.8"/>
<path d="M819.9 1607.1 Q832.6 1601.2 838.6 1604.2 Q844.6 1607.2 847.6 1613.2 Q850.6 1619.2 851.6 1624.2 L852.6 1629.2" stroke="#f4bd30" stroke-width="1.5" fill="none" stroke-dasharray="5.2 2.6"/>
<text x="737.1" y="1623.7" font-size="24" fill="#d8211d" textLength="27.0" lengthAdjust="spacingAndGlyphs" stroke="#d8211d" stroke-width="0.55">(4)</text>
</g>
<defs><clipPath id="lt10"><rect x="888.0" y="1559.2" width="149.6" height="70.0"/></clipPath>
<clipPath id="lb10"><path d="M888.0 1560.1 Q907.4 1560.7 917.9 1565.2 Q928.4 1569.7 943.3 1576.4 Q958.3 1583.1 973.2 1586.9 Q988.2 1590.6 1000.2 1596.6 Q1012.1 1602.6 1025.0 1613.1 L1038.0 1623.5 L1007.7 1629.7 Q1000.2 1611.6 994.2 1605.6 Q988.2 1599.6 980.8 1603.4 Q973.3 1607.1 962.8 1608.2 Q952.3 1609.2 944.8 1607.4 Q937.4 1605.6 925.4 1598.1 Q913.4 1590.6 900.7 1586.9 L888.0 1583.1Z"/></clipPath><clipPath id="lu10"><path d="M888.0 1560.1 Q907.4 1560.7 917.9 1565.2 Q928.4 1569.7 943.3 1576.4 Q958.3 1583.1 973.2 1586.9 Q988.2 1590.6 1000.2 1596.6 Q1012.1 1602.6 1025.0 1613.1 L1038.0 1623.5 L1037.6 1629.2 L888.0 1629.2Z"/></clipPath></defs>
<g clip-path="url(#lt10)">
<rect x="888.0" y="1559.2" width="149.6" height="70.0" fill="#020204" />
<g clip-path="url(#lb10)" opacity="1">
<path d="M888.0 1560.1 Q907.4 1560.7 917.9 1565.2 Q928.4 1569.7 943.3 1576.4 Q958.3 1583.1 973.2 1586.9 Q988.2 1590.6 1000.2 1596.6 Q1012.1 1602.6 1025.0 1613.1 L1038.0 1623.5 L1007.7 1629.7 Q1000.2 1611.6 994.2 1605.6 Q988.2 1599.6 980.8 1603.4 Q973.3 1607.1 962.8 1608.2 Q952.3 1609.2 944.8 1607.4 Q937.4 1605.6 925.4 1598.1 Q913.4 1590.6 900.7 1586.9 L888.0 1583.1Z" fill="#1238e0" opacity="0.7" filter="url(#bl3)"/>
<rect x="888.0" y="1559.2" width="149.6" height="70.0" fill="#fff" filter="url(#bluen)" opacity="0.9"/>
<rect x="888.0" y="1559.2" width="149.6" height="70.0" fill="#fff" filter="url(#cy)" opacity="0.85"/>
</g>
<path d="M888.0 1583.1 Q913.4 1590.6 925.4 1598.1 Q937.4 1605.6 944.8 1607.4 Q952.3 1609.2 962.8 1608.2 Q973.3 1607.1 980.8 1603.4 Q988.2 1599.6 994.2 1605.6 Q1000.2 1611.6 1004.0 1620.7 L1007.7 1629.7 L888.0 1629.2Z" fill="#0c1c9c" opacity="0.7" filter="url(#bl3)"/>
<ellipse cx="917.9" cy="1619.2" rx="10" ry="5" fill="#2a6af0" opacity="0.8" filter="url(#bl3)"/>
<ellipse cx="929.9" cy="1611.2" rx="8" ry="4" fill="#2a6af0" opacity="0.8" filter="url(#bl3)"/>
<path d="M894.0 1569.2 Q918.0 1573.2 933.0 1580.2 Q948.0 1587.2 963.0 1592.2 L978.0 1597.2" stroke="#28b8f0" stroke-width="9" fill="none" opacity="0.85" filter="url(#bl3)" stroke-linecap="round"/>
<path d="M918.0 1572.2 Q938.0 1578.2 946.0 1582.2 Q954.0 1586.2 962.0 1588.7 L970.0 1591.2" stroke="#e31a1c" stroke-width="5.5" fill="none" stroke-linecap="round"/>
<path d="M1006.0 1601.2 Q1018.0 1611.2 1023.0 1616.2 Q1028.0 1621.2 1031.0 1624.2 L1034.0 1627.2" stroke="#28b8f0" stroke-width="9" fill="none" opacity="0.8" filter="url(#bl3)"/>
<path d="M1008.0 1601.2 Q1018.0 1609.2 1022.0 1613.2 Q1026.0 1617.2 1029.5 1621.2 L1033.0 1625.2" stroke="#e31a1c" stroke-width="4.5" fill="none" stroke-linecap="round"/>
<path d="M888.0 1560.1 Q907.4 1560.7 917.9 1565.2 Q928.4 1569.7 943.3 1576.4 Q958.3 1583.1 973.2 1586.9 Q988.2 1590.6 1000.2 1596.6 Q1012.1 1602.6 1025.0 1613.1 L1038.0 1623.5" stroke="#f4bd30" stroke-width="2.5" fill="none" stroke-dasharray="6.5 2.8"/>
<path d="M888.0 1583.1 Q913.4 1590.6 925.4 1598.1 Q937.4 1605.6 944.8 1607.4 Q952.3 1609.2 962.8 1608.2 Q973.3 1607.1 980.8 1603.4 Q988.2 1599.6 994.2 1605.6 Q1000.2 1611.6 1004.0 1620.7 L1007.7 1629.7" stroke="#f4bd30" stroke-width="2.5" fill="none" stroke-dasharray="6.5 2.8"/>
</g>
<defs><clipPath id="lt11"><rect x="1040.2" y="1559.2" width="148.6" height="70.0"/></clipPath>
<clipPath id="lb11"><path d="M1040.2 1560.1 Q1059.6 1560.7 1070.1 1565.2 Q1080.6 1569.7 1095.6 1576.4 Q1110.5 1583.1 1125.5 1586.9 Q1140.4 1590.6 1152.3 1596.6 Q1164.3 1602.6 1177.2 1613.1 L1190.2 1623.5 L1159.9 1629.7 Q1152.4 1611.6 1146.4 1605.6 Q1140.4 1599.6 1133.0 1603.4 Q1125.5 1607.1 1115.0 1608.2 Q1104.5 1609.2 1097.1 1607.4 Q1089.6 1605.6 1077.6 1598.1 Q1065.6 1590.6 1052.9 1586.9 L1040.2 1583.1Z"/></clipPath><clipPath id="lu11"><path d="M1040.2 1560.1 Q1059.6 1560.7 1070.1 1565.2 Q1080.6 1569.7 1095.6 1576.4 Q1110.5 1583.1 1125.5 1586.9 Q1140.4 1590.6 1152.3 1596.6 Q1164.3 1602.6 1177.2 1613.1 L1190.2 1623.5 L1188.8 1629.2 L1040.2 1629.2Z"/></clipPath></defs>
<g clip-path="url(#lt11)">
<rect x="1040.2" y="1559.2" width="148.6" height="70.0" fill="#020204" />
<g clip-path="url(#lu11)">
<rect x="1040.2" y="1559.2" width="148.6" height="70.0" fill="#fff" filter="url(#spk2)"/>
<rect x="1040.2" y="1559.2" width="148.6" height="70.0" fill="url(#fadeL)" />
</g>
<path d="M1040.2 1560.1 Q1059.6 1560.7 1070.1 1565.2 Q1080.6 1569.7 1095.6 1576.4 Q1110.5 1583.1 1125.5 1586.9 Q1140.4 1590.6 1152.3 1596.6 Q1164.3 1602.6 1177.2 1613.1 L1190.2 1623.5 L1159.9 1629.7 Q1152.4 1611.6 1146.4 1605.6 Q1140.4 1599.6 1133.0 1603.4 Q1125.5 1607.1 1115.0 1608.2 Q1104.5 1609.2 1097.1 1607.4 Q1089.6 1605.6 1077.6 1598.1 Q1065.6 1590.6 1052.9 1586.9 L1040.2 1583.1Z" fill="#b8b8b8" opacity="0.22"/>
<path d="M1040.2 1557.1 Q1059.6 1557.7 1070.1 1562.2 Q1080.6 1566.7 1095.6 1573.4 Q1110.5 1580.1 1125.5 1583.9 Q1140.4 1587.6 1152.3 1593.6 Q1164.3 1599.6 1177.2 1610.1 L1190.2 1620.5" stroke="#666" stroke-width="3" fill="none" opacity="0.5" filter="url(#bl3)"/>
<g clip-path="url(#lb11)" opacity="0.82">
<path d="M1040.2 1560.1 Q1059.6 1560.7 1070.1 1565.2 Q1080.6 1569.7 1095.6 1576.4 Q1110.5 1583.1 1125.5 1586.9 Q1140.4 1590.6 1152.3 1596.6 Q1164.3 1602.6 1177.2 1613.1 L1190.2 1623.5 L1159.9 1629.7 Q1152.4 1611.6 1146.4 1605.6 Q1140.4 1599.6 1133.0 1603.4 Q1125.5 1607.1 1115.0 1608.2 Q1104.5 1609.2 1097.1 1607.4 Q1089.6 1605.6 1077.6 1598.1 Q1065.6 1590.6 1052.9 1586.9 L1040.2 1583.1Z" fill="#1238e0" opacity="0.7" filter="url(#bl3)"/>
<rect x="1040.2" y="1559.2" width="148.6" height="70.0" fill="#fff" filter="url(#bluen)" opacity="0.9"/>
<rect x="1040.2" y="1559.2" width="148.6" height="70.0" fill="#fff" filter="url(#cy)" opacity="0.85"/>
</g>
<path d="M1040.2 1583.1 Q1065.6 1590.6 1077.6 1598.1 Q1089.6 1605.6 1097.1 1607.4 Q1104.5 1609.2 1115.0 1608.2 Q1125.5 1607.1 1133.0 1603.4 Q1140.4 1599.6 1146.4 1605.6 Q1152.4 1611.6 1156.2 1620.7 L1159.9 1629.7 L1040.2 1629.2Z" fill="#0c1c9c" opacity="0.574" filter="url(#bl3)"/>
<ellipse cx="1069.9" cy="1619.2" rx="10" ry="5" fill="#2a6af0" opacity="0.656" filter="url(#bl3)"/>
<ellipse cx="1081.8" cy="1611.2" rx="8" ry="4" fill="#2a6af0" opacity="0.656" filter="url(#bl3)"/>
<path d="M1046.2 1569.2 Q1070.2 1573.2 1085.2 1580.2 Q1100.2 1587.2 1115.2 1592.2 L1130.2 1597.2" stroke="#28b8f0" stroke-width="9" fill="none" opacity="0.85" filter="url(#bl3)" stroke-linecap="round"/>
<path d="M1070.2 1572.2 Q1090.2 1578.2 1098.2 1582.2 Q1106.2 1586.2 1114.2 1588.7 L1122.2 1591.2" stroke="#e31a1c" stroke-width="5.5" fill="none" stroke-linecap="round"/>
<path d="M1158.2 1601.2 Q1170.2 1611.2 1175.2 1616.2 Q1180.2 1621.2 1183.2 1624.2 L1186.2 1627.2" stroke="#28b8f0" stroke-width="9" fill="none" opacity="0.8" filter="url(#bl3)"/>
<path d="M1160.2 1601.2 Q1170.2 1609.2 1174.2 1613.2 Q1178.2 1617.2 1181.7 1621.2 L1185.2 1625.2" stroke="#e31a1c" stroke-width="4.5" fill="none" stroke-linecap="round"/>
<path d="M1040.2 1560.1 Q1059.6 1560.7 1070.1 1565.2 Q1080.6 1569.7 1095.6 1576.4 Q1110.5 1583.1 1125.5 1586.9 Q1140.4 1590.6 1152.3 1596.6 Q1164.3 1602.6 1177.2 1613.1 L1190.2 1623.5" stroke="#f4bd30" stroke-width="2.5" fill="none" stroke-dasharray="6.5 2.8"/>
<path d="M1040.2 1583.1 Q1065.6 1590.6 1077.6 1598.1 Q1089.6 1605.6 1097.1 1607.4 Q1104.5 1609.2 1115.0 1608.2 Q1125.5 1607.1 1133.0 1603.4 Q1140.4 1599.6 1146.4 1605.6 Q1152.4 1611.6 1156.2 1620.7 L1159.9 1629.7" stroke="#f4bd30" stroke-width="2.5" fill="none" stroke-dasharray="6.5 2.8"/>
</g>
<rect x="1196.3" y="1358.4" width="7.0" height="243.0" fill="url(#cbar)" />
<text x="1197.4" y="1353.8" font-size="24" textLength="54.0" lengthAdjust="spacingAndGlyphs" stroke="#000" stroke-width="0.55">High</text>
<text x="1199.0" y="1627.0" font-size="22.5" textLength="45.8" lengthAdjust="spacingAndGlyphs" stroke="#000" stroke-width="0.55">Low</text>
<!-- Panel M -->
<text x="1268.0" y="1341.5" font-size="37" stroke="#000" stroke-width="0.55">M</text>
<line x1="1333.7" y1="1370.5" x2="1333.7" y2="1600.8" stroke="#000" stroke-width="3.2" />
<line x1="1326.5" y1="1599.2" x2="1693.5" y2="1599.2" stroke="#000" stroke-width="3.2" />
<line x1="1326.5" y1="1599.2" x2="1333.7" y2="1599.2" stroke="#000" stroke-width="3" />
<text x="1324.5" y="1606.4" font-size="21" text-anchor="end" stroke="#000" stroke-width="0.55">0</text>
<line x1="1326.5" y1="1542.5" x2="1333.7" y2="1542.5" stroke="#000" stroke-width="3" />
<text x="1324.5" y="1549.7" font-size="21" text-anchor="end" stroke="#000" stroke-width="0.55">10</text>
<line x1="1326.5" y1="1485.7" x2="1333.7" y2="1485.7" stroke="#000" stroke-width="3" />
<text x="1324.5" y="1492.9" font-size="21" text-anchor="end" stroke="#000" stroke-width="0.55">20</text>
<line x1="1326.5" y1="1429.0" x2="1333.7" y2="1429.0" stroke="#000" stroke-width="3" />
<text x="1324.5" y="1436.2" font-size="21" text-anchor="end" stroke="#000" stroke-width="0.55">30</text>
<line x1="1326.5" y1="1372.2" x2="1333.7" y2="1372.2" stroke="#000" stroke-width="3" />
<text x="1324.5" y="1379.4" font-size="21" text-anchor="end" stroke="#000" stroke-width="0.55">40</text>
<rect x="1370.0" y="1547.3" width="41.7" height="51.9" fill="#000" />
<line x1="1390.8" y1="1545.5" x2="1390.8" y2="1548.3" stroke="#000" stroke-width="3.6" />
<line x1="1387.4" y1="1546.5" x2="1394.2" y2="1546.5" stroke="#000" stroke-width="2.6" />
<rect x="1452.5" y="1555.1" width="41.8" height="44.1" fill="#0a7a18" />
<line x1="1473.4" y1="1553.5" x2="1473.4" y2="1556.1" stroke="#0a7a18" stroke-width="3.6" />
<line x1="1470.0" y1="1554.5" x2="1476.8" y2="1554.5" stroke="#0a7a18" stroke-width="2.6" />
<rect x="1535.1" y="1484.2" width="41.7" height="115.0" fill="#0000fa" />
<line x1="1555.9" y1="1471.6" x2="1555.9" y2="1485.2" stroke="#0000fa" stroke-width="3.6" />
<line x1="1552.5" y1="1472.6" x2="1559.3" y2="1472.6" stroke="#0000fa" stroke-width="2.6" />
<rect x="1617.4" y="1420.0" width="42.0" height="179.2" fill="#ff0000" />
<line x1="1638.4" y1="1413.1" x2="1638.4" y2="1421.0" stroke="#e0191e" stroke-width="3.6" />
<line x1="1635.0" y1="1414.1" x2="1641.8" y2="1414.1" stroke="#e0191e" stroke-width="2.6" />
<text x="1391.0" y="1628.0" font-size="23" text-anchor="middle" stroke="#000" stroke-width="0.55">(1)</text>
<text x="1473.6" y="1628.0" font-size="23" text-anchor="middle" stroke="#000" stroke-width="0.55">(2)</text>
<text x="1556.1" y="1628.0" font-size="23" text-anchor="middle" stroke="#000" stroke-width="0.55">(3)</text>
<text x="1638.4" y="1628.0" font-size="23" text-anchor="middle" stroke="#000" stroke-width="0.55">(4)</text>
<line x1="1353.5" y1="1464.1" x2="1589.7" y2="1464.1" stroke="#000" stroke-width="3.4" />
<path d="M1478.0 1464.1V1421.2H1594.2" fill="none" stroke="#000" stroke-width="3.4" />
<line x1="1594.2" y1="1404.7" x2="1594.2" y2="1439.2" stroke="#000" stroke-width="3.4" />
<text x="1532.4" y="1427.4" font-size="40" text-anchor="middle" textLength="62.5" lengthAdjust="spacingAndGlyphs">****</text>
<text x="1284.0" y="1582.5" font-size="22" textLength="190.5" lengthAdjust="spacingAndGlyphs" transform="rotate(-90 1284.0 1582.5)" stroke="#000" stroke-width="0.55">sO<tspan dy="5" font-size="14">2</tspan><tspan dy="-5"> Avr Total (%)</tspan></text>
<!-- watermark -->
<g font-weight="normal">
<text x="1100.5" y="1631.6" font-size="55" fill="#a9a9a9" font-weight="normal" textLength="112.6" lengthAdjust="spacing" opacity="0.9" stroke="#a9a9a9" stroke-width="0.8">知乎</text>
<text x="1098.3" y="1629.3" font-size="55" fill="#ffffff" font-weight="normal" textLength="112.6" lengthAdjust="spacing" stroke="#fff" stroke-width="0.8">知乎</text>
<text x="1228.3" y="1632.0" font-size="53" fill="#a9a9a9" font-weight="normal" textLength="500.7" lengthAdjust="spacingAndGlyphs" opacity="0.9" stroke="#a9a9a9" stroke-width="0.9">@EngineeringForLife</text>
<text x="1226.0" y="1629.6" font-size="53" fill="#ffffff" font-weight="normal" textLength="500.7" lengthAdjust="spacingAndGlyphs" stroke="#fff" stroke-width="0.9">@EngineeringForLife</text>
</g>
</svg>
</body></html>
